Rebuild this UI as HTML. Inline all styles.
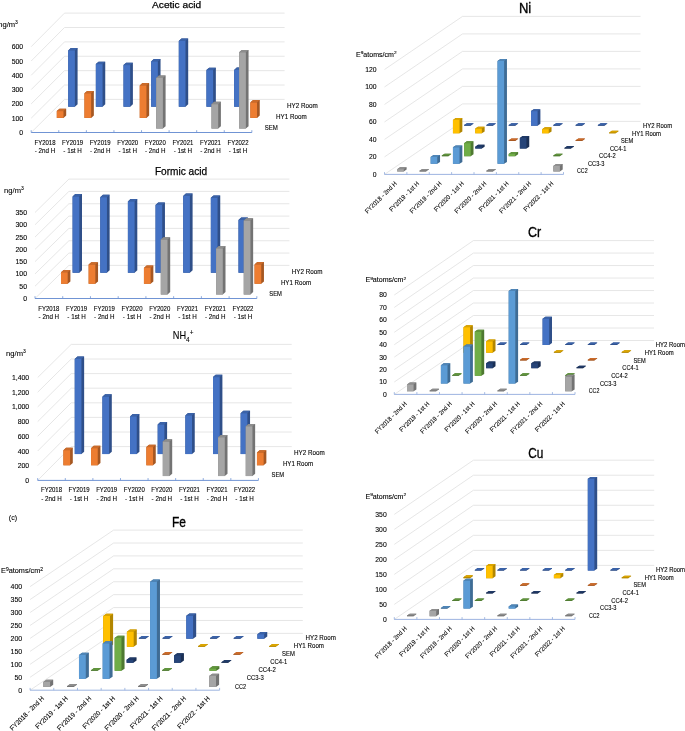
<!DOCTYPE html>
<html><head><meta charset="utf-8"><style>
html,body{margin:0;padding:0;background:#fff;}
body{width:685px;height:731px;overflow:hidden;}
svg{display:block;will-change:transform;}
text{font-family:"Liberation Sans", sans-serif;stroke:#000;stroke-width:0.1px;paint-order:stroke;}
</style></head><body>
<svg width="685" height="731" viewBox="0 0 685 731" font-family='"Liberation Sans", sans-serif'>
<rect width="685" height="731" fill="#fff"/>
<text x="152.10" y="8.00" font-size="9.80" textLength="49.00" lengthAdjust="spacingAndGlyphs" fill="#000" style="stroke-width:0.25px">Acetic acid</text>
<text x="154.90" y="174.60" font-size="11.00" textLength="52.30" lengthAdjust="spacingAndGlyphs" fill="#000" style="stroke-width:0.25px">Formic acid</text>
<text x="172.8" y="339.3" font-size="10.4" fill="#000"><tspan textLength="13.3" lengthAdjust="spacingAndGlyphs">NH</tspan><tspan font-size="6.4" dy="2.3">4</tspan><tspan font-size="6.4" dy="-6.6">+</tspan></text>
<text x="-1.80" y="26.90" font-size="7.6" fill="#000">ng/m<tspan font-size="5.0" dy="-3.2">3</tspan></text>
<text x="4.10" y="192.90" font-size="7.6" fill="#000">ng/m<tspan font-size="5.0" dy="-3.2">3</tspan></text>
<text x="6.10" y="356.20" font-size="7.6" fill="#000">ng/m<tspan font-size="5.0" dy="-3.2">3</tspan></text>
<polyline points="31.20,132.50 64.50,99.40 284.60,99.40" fill="none" stroke="#e0e0e0" stroke-width="0.8"/>
<polyline points="31.20,118.20 64.50,85.02 284.60,85.02" fill="none" stroke="#e0e0e0" stroke-width="0.8"/>
<polyline points="31.20,103.90 64.50,70.64 284.60,70.64" fill="none" stroke="#e0e0e0" stroke-width="0.8"/>
<polyline points="31.20,89.60 64.50,56.26 284.60,56.26" fill="none" stroke="#e0e0e0" stroke-width="0.8"/>
<polyline points="31.20,75.30 64.50,41.88 284.60,41.88" fill="none" stroke="#e0e0e0" stroke-width="0.8"/>
<polyline points="31.20,61.00 64.50,27.50 284.60,27.50" fill="none" stroke="#e0e0e0" stroke-width="0.8"/>
<polyline points="31.20,46.70 64.50,13.12 284.60,13.12" fill="none" stroke="#e0e0e0" stroke-width="0.8"/>
<line x1="31.20" y1="132.50" x2="251.84" y2="132.50" stroke="#7094d4" stroke-width="1.0"/>
<line x1="31.20" y1="130.20" x2="31.20" y2="132.50" stroke="#7094d4" stroke-width="0.8"/>
<line x1="58.78" y1="130.20" x2="58.78" y2="132.50" stroke="#7094d4" stroke-width="0.8"/>
<line x1="86.36" y1="130.20" x2="86.36" y2="132.50" stroke="#7094d4" stroke-width="0.8"/>
<line x1="113.94" y1="130.20" x2="113.94" y2="132.50" stroke="#7094d4" stroke-width="0.8"/>
<line x1="141.52" y1="130.20" x2="141.52" y2="132.50" stroke="#7094d4" stroke-width="0.8"/>
<line x1="169.10" y1="130.20" x2="169.10" y2="132.50" stroke="#7094d4" stroke-width="0.8"/>
<line x1="196.68" y1="130.20" x2="196.68" y2="132.50" stroke="#7094d4" stroke-width="0.8"/>
<line x1="224.26" y1="130.20" x2="224.26" y2="132.50" stroke="#7094d4" stroke-width="0.8"/>
<line x1="251.84" y1="130.20" x2="251.84" y2="132.50" stroke="#7094d4" stroke-width="0.8"/>
<text x="23.20" y="135.00" font-size="6.90" text-anchor="end" fill="#000">0</text>
<text x="23.20" y="120.70" font-size="6.90" text-anchor="end" fill="#000">100</text>
<text x="23.20" y="106.40" font-size="6.90" text-anchor="end" fill="#000">200</text>
<text x="23.20" y="92.10" font-size="6.90" text-anchor="end" fill="#000">300</text>
<text x="23.20" y="77.80" font-size="6.90" text-anchor="end" fill="#000">400</text>
<text x="23.20" y="63.50" font-size="6.90" text-anchor="end" fill="#000">500</text>
<text x="23.20" y="49.20" font-size="6.90" text-anchor="end" fill="#000">600</text>
<polygon points="68.20,106.70 74.90,106.70 77.60,104.30 77.60,48.00 70.90,48.00 68.20,50.40" fill="#2f4f89"/><polygon points="68.20,50.40 74.90,50.40 77.60,48.00 70.90,48.00" fill="#3a62a8"/><rect x="68.20" y="50.40" width="6.70" height="56.30" fill="#4472C4"/>
<polygon points="95.85,106.70 102.55,106.70 105.25,104.30 105.25,61.70 98.55,61.70 95.85,64.10" fill="#2f4f89"/><polygon points="95.85,64.10 102.55,64.10 105.25,61.70 98.55,61.70" fill="#3a62a8"/><rect x="95.85" y="64.10" width="6.70" height="42.60" fill="#4472C4"/>
<polygon points="123.50,106.70 130.20,106.70 132.90,104.30 132.90,62.70 126.20,62.70 123.50,65.10" fill="#2f4f89"/><polygon points="123.50,65.10 130.20,65.10 132.90,62.70 126.20,62.70" fill="#3a62a8"/><rect x="123.50" y="65.10" width="6.70" height="41.60" fill="#4472C4"/>
<polygon points="151.15,106.70 157.85,106.70 160.55,104.30 160.55,59.00 153.85,59.00 151.15,61.40" fill="#2f4f89"/><polygon points="151.15,61.40 157.85,61.40 160.55,59.00 153.85,59.00" fill="#3a62a8"/><rect x="151.15" y="61.40" width="6.70" height="45.30" fill="#4472C4"/>
<polygon points="178.80,106.70 185.50,106.70 188.20,104.30 188.20,38.60 181.50,38.60 178.80,41.00" fill="#2f4f89"/><polygon points="178.80,41.00 185.50,41.00 188.20,38.60 181.50,38.60" fill="#3a62a8"/><rect x="178.80" y="41.00" width="6.70" height="65.70" fill="#4472C4"/>
<polygon points="206.45,106.70 213.15,106.70 215.85,104.30 215.85,67.70 209.15,67.70 206.45,70.10" fill="#2f4f89"/><polygon points="206.45,70.10 213.15,70.10 215.85,67.70 209.15,67.70" fill="#3a62a8"/><rect x="206.45" y="70.10" width="6.70" height="36.60" fill="#4472C4"/>
<polygon points="234.10,106.70 240.80,106.70 243.50,104.30 243.50,67.50 236.80,67.50 234.10,69.90" fill="#2f4f89"/><polygon points="234.10,69.90 240.80,69.90 243.50,67.50 236.80,67.50" fill="#3a62a8"/><rect x="234.10" y="69.90" width="6.70" height="36.80" fill="#4472C4"/>
<polygon points="56.80,117.90 63.50,117.90 66.20,115.50 66.20,108.70 59.50,108.70 56.80,111.10" fill="#a55722"/><polygon points="56.80,111.10 63.50,111.10 66.20,108.70 59.50,108.70" fill="#cb6b2a"/><rect x="56.80" y="111.10" width="6.70" height="6.80" fill="#ED7D31"/>
<polygon points="84.45,117.90 91.15,117.90 93.85,115.50 93.85,90.90 87.15,90.90 84.45,93.30" fill="#a55722"/><polygon points="84.45,93.30 91.15,93.30 93.85,90.90 87.15,90.90" fill="#cb6b2a"/><rect x="84.45" y="93.30" width="6.70" height="24.60" fill="#ED7D31"/>
<polygon points="139.75,117.90 146.45,117.90 149.15,115.50 149.15,83.10 142.45,83.10 139.75,85.50" fill="#a55722"/><polygon points="139.75,85.50 146.45,85.50 149.15,83.10 142.45,83.10" fill="#cb6b2a"/><rect x="139.75" y="85.50" width="6.70" height="32.40" fill="#ED7D31"/>
<polygon points="250.35,117.90 257.05,117.90 259.75,115.50 259.75,100.10 253.05,100.10 250.35,102.50" fill="#a55722"/><polygon points="250.35,102.50 257.05,102.50 259.75,100.10 253.05,100.10" fill="#cb6b2a"/><rect x="250.35" y="102.50" width="6.70" height="15.40" fill="#ED7D31"/>
<polygon points="156.20,128.60 162.90,128.60 165.60,126.20 165.60,75.50 158.90,75.50 156.20,77.90" fill="#737373"/><polygon points="156.20,77.90 162.90,77.90 165.60,75.50 158.90,75.50" fill="#8d8d8d"/><rect x="156.20" y="77.90" width="6.70" height="50.70" fill="#A5A5A5"/>
<polygon points="211.50,128.60 218.20,128.60 220.90,126.20 220.90,101.80 214.20,101.80 211.50,104.20" fill="#737373"/><polygon points="211.50,104.20 218.20,104.20 220.90,101.80 214.20,101.80" fill="#8d8d8d"/><rect x="211.50" y="104.20" width="6.70" height="24.40" fill="#A5A5A5"/>
<polygon points="239.15,128.60 245.85,128.60 248.55,126.20 248.55,49.90 241.85,49.90 239.15,52.30" fill="#737373"/><polygon points="239.15,52.30 245.85,52.30 248.55,49.90 241.85,49.90" fill="#8d8d8d"/><rect x="239.15" y="52.30" width="6.70" height="76.30" fill="#A5A5A5"/>
<text x="44.99" y="144.80" font-size="6.60" text-anchor="middle" textLength="21.00" lengthAdjust="spacingAndGlyphs" fill="#000">FY2018</text>
<text x="44.99" y="153.10" font-size="6.60" text-anchor="middle" textLength="20.50" lengthAdjust="spacingAndGlyphs" fill="#000">- 2nd H</text>
<text x="72.57" y="144.80" font-size="6.60" text-anchor="middle" textLength="21.00" lengthAdjust="spacingAndGlyphs" fill="#000">FY2019</text>
<text x="72.57" y="153.10" font-size="6.60" text-anchor="middle" textLength="18.50" lengthAdjust="spacingAndGlyphs" fill="#000">- 1st H</text>
<text x="100.15" y="144.80" font-size="6.60" text-anchor="middle" textLength="21.00" lengthAdjust="spacingAndGlyphs" fill="#000">FY2019</text>
<text x="100.15" y="153.10" font-size="6.60" text-anchor="middle" textLength="20.50" lengthAdjust="spacingAndGlyphs" fill="#000">- 2nd H</text>
<text x="127.73" y="144.80" font-size="6.60" text-anchor="middle" textLength="21.00" lengthAdjust="spacingAndGlyphs" fill="#000">FY2020</text>
<text x="127.73" y="153.10" font-size="6.60" text-anchor="middle" textLength="18.50" lengthAdjust="spacingAndGlyphs" fill="#000">- 1st H</text>
<text x="155.31" y="144.80" font-size="6.60" text-anchor="middle" textLength="21.00" lengthAdjust="spacingAndGlyphs" fill="#000">FY2020</text>
<text x="155.31" y="153.10" font-size="6.60" text-anchor="middle" textLength="20.50" lengthAdjust="spacingAndGlyphs" fill="#000">- 2nd H</text>
<text x="182.89" y="144.80" font-size="6.60" text-anchor="middle" textLength="21.00" lengthAdjust="spacingAndGlyphs" fill="#000">FY2021</text>
<text x="182.89" y="153.10" font-size="6.60" text-anchor="middle" textLength="18.50" lengthAdjust="spacingAndGlyphs" fill="#000">- 1st H</text>
<text x="210.47" y="144.80" font-size="6.60" text-anchor="middle" textLength="21.00" lengthAdjust="spacingAndGlyphs" fill="#000">FY2021</text>
<text x="210.47" y="153.10" font-size="6.60" text-anchor="middle" textLength="20.50" lengthAdjust="spacingAndGlyphs" fill="#000">- 2nd H</text>
<text x="238.05" y="144.80" font-size="6.60" text-anchor="middle" textLength="21.00" lengthAdjust="spacingAndGlyphs" fill="#000">FY2022</text>
<text x="238.05" y="153.10" font-size="6.60" text-anchor="middle" textLength="18.50" lengthAdjust="spacingAndGlyphs" fill="#000">- 1st H</text>
<text x="287.00" y="107.70" font-size="6.40" textLength="30.80" lengthAdjust="spacingAndGlyphs" fill="#000">HY2 Room</text>
<text x="276.00" y="118.80" font-size="6.40" textLength="30.70" lengthAdjust="spacingAndGlyphs" fill="#000">HY1 Room</text>
<text x="264.80" y="129.90" font-size="6.40" textLength="13.10" lengthAdjust="spacingAndGlyphs" fill="#000">SEM</text>
<polyline points="35.00,298.50 68.90,265.40 289.40,265.40" fill="none" stroke="#e0e0e0" stroke-width="0.8"/>
<polyline points="35.00,286.21 68.90,253.07 289.40,253.07" fill="none" stroke="#e0e0e0" stroke-width="0.8"/>
<polyline points="35.00,273.93 68.90,240.74 289.40,240.74" fill="none" stroke="#e0e0e0" stroke-width="0.8"/>
<polyline points="35.00,261.64 68.90,228.41 289.40,228.41" fill="none" stroke="#e0e0e0" stroke-width="0.8"/>
<polyline points="35.00,249.36 68.90,216.08 289.40,216.08" fill="none" stroke="#e0e0e0" stroke-width="0.8"/>
<polyline points="35.00,237.07 68.90,203.75 289.40,203.75" fill="none" stroke="#e0e0e0" stroke-width="0.8"/>
<polyline points="35.00,224.79 68.90,191.42 289.40,191.42" fill="none" stroke="#e0e0e0" stroke-width="0.8"/>
<polyline points="35.00,212.50 68.90,179.09 289.40,179.09" fill="none" stroke="#e0e0e0" stroke-width="0.8"/>
<line x1="35.00" y1="298.50" x2="256.84" y2="298.50" stroke="#7094d4" stroke-width="1.0"/>
<line x1="35.00" y1="296.20" x2="35.00" y2="298.50" stroke="#7094d4" stroke-width="0.8"/>
<line x1="62.73" y1="296.20" x2="62.73" y2="298.50" stroke="#7094d4" stroke-width="0.8"/>
<line x1="90.46" y1="296.20" x2="90.46" y2="298.50" stroke="#7094d4" stroke-width="0.8"/>
<line x1="118.19" y1="296.20" x2="118.19" y2="298.50" stroke="#7094d4" stroke-width="0.8"/>
<line x1="145.92" y1="296.20" x2="145.92" y2="298.50" stroke="#7094d4" stroke-width="0.8"/>
<line x1="173.65" y1="296.20" x2="173.65" y2="298.50" stroke="#7094d4" stroke-width="0.8"/>
<line x1="201.38" y1="296.20" x2="201.38" y2="298.50" stroke="#7094d4" stroke-width="0.8"/>
<line x1="229.11" y1="296.20" x2="229.11" y2="298.50" stroke="#7094d4" stroke-width="0.8"/>
<line x1="256.84" y1="296.20" x2="256.84" y2="298.50" stroke="#7094d4" stroke-width="0.8"/>
<text x="27.00" y="301.00" font-size="6.90" text-anchor="end" fill="#000">0</text>
<text x="27.00" y="288.71" font-size="6.90" text-anchor="end" fill="#000">50</text>
<text x="27.00" y="276.43" font-size="6.90" text-anchor="end" fill="#000">100</text>
<text x="27.00" y="264.14" font-size="6.90" text-anchor="end" fill="#000">150</text>
<text x="27.00" y="251.86" font-size="6.90" text-anchor="end" fill="#000">200</text>
<text x="27.00" y="239.57" font-size="6.90" text-anchor="end" fill="#000">250</text>
<text x="27.00" y="227.29" font-size="6.90" text-anchor="end" fill="#000">300</text>
<text x="27.00" y="215.00" font-size="6.90" text-anchor="end" fill="#000">350</text>
<polygon points="72.60,272.70 79.30,272.70 82.00,270.30 82.00,194.10 75.30,194.10 72.60,196.50" fill="#2f4f89"/><polygon points="72.60,196.50 79.30,196.50 82.00,194.10 75.30,194.10" fill="#3a62a8"/><rect x="72.60" y="196.50" width="6.70" height="76.20" fill="#4472C4"/>
<polygon points="100.25,272.70 106.95,272.70 109.65,270.30 109.65,194.80 102.95,194.80 100.25,197.20" fill="#2f4f89"/><polygon points="100.25,197.20 106.95,197.20 109.65,194.80 102.95,194.80" fill="#3a62a8"/><rect x="100.25" y="197.20" width="6.70" height="75.50" fill="#4472C4"/>
<polygon points="127.90,272.70 134.60,272.70 137.30,270.30 137.30,199.00 130.60,199.00 127.90,201.40" fill="#2f4f89"/><polygon points="127.90,201.40 134.60,201.40 137.30,199.00 130.60,199.00" fill="#3a62a8"/><rect x="127.90" y="201.40" width="6.70" height="71.30" fill="#4472C4"/>
<polygon points="155.55,272.70 162.25,272.70 164.95,270.30 164.95,202.50 158.25,202.50 155.55,204.90" fill="#2f4f89"/><polygon points="155.55,204.90 162.25,204.90 164.95,202.50 158.25,202.50" fill="#3a62a8"/><rect x="155.55" y="204.90" width="6.70" height="67.80" fill="#4472C4"/>
<polygon points="183.20,272.70 189.90,272.70 192.60,270.30 192.60,193.60 185.90,193.60 183.20,196.00" fill="#2f4f89"/><polygon points="183.20,196.00 189.90,196.00 192.60,193.60 185.90,193.60" fill="#3a62a8"/><rect x="183.20" y="196.00" width="6.70" height="76.70" fill="#4472C4"/>
<polygon points="210.85,272.70 217.55,272.70 220.25,270.30 220.25,195.40 213.55,195.40 210.85,197.80" fill="#2f4f89"/><polygon points="210.85,197.80 217.55,197.80 220.25,195.40 213.55,195.40" fill="#3a62a8"/><rect x="210.85" y="197.80" width="6.70" height="74.90" fill="#4472C4"/>
<polygon points="238.50,272.70 245.20,272.70 247.90,270.30 247.90,217.60 241.20,217.60 238.50,220.00" fill="#2f4f89"/><polygon points="238.50,220.00 245.20,220.00 247.90,217.60 241.20,217.60" fill="#3a62a8"/><rect x="238.50" y="220.00" width="6.70" height="52.70" fill="#4472C4"/>
<polygon points="61.00,283.80 67.70,283.80 70.40,281.40 70.40,269.90 63.70,269.90 61.00,272.30" fill="#a55722"/><polygon points="61.00,272.30 67.70,272.30 70.40,269.90 63.70,269.90" fill="#cb6b2a"/><rect x="61.00" y="272.30" width="6.70" height="11.50" fill="#ED7D31"/>
<polygon points="88.65,283.80 95.35,283.80 98.05,281.40 98.05,262.20 91.35,262.20 88.65,264.60" fill="#a55722"/><polygon points="88.65,264.60 95.35,264.60 98.05,262.20 91.35,262.20" fill="#cb6b2a"/><rect x="88.65" y="264.60" width="6.70" height="19.20" fill="#ED7D31"/>
<polygon points="143.95,283.80 150.65,283.80 153.35,281.40 153.35,265.60 146.65,265.60 143.95,268.00" fill="#a55722"/><polygon points="143.95,268.00 150.65,268.00 153.35,265.60 146.65,265.60" fill="#cb6b2a"/><rect x="143.95" y="268.00" width="6.70" height="15.80" fill="#ED7D31"/>
<polygon points="254.55,283.80 261.25,283.80 263.95,281.40 263.95,262.10 257.25,262.10 254.55,264.50" fill="#a55722"/><polygon points="254.55,264.50 261.25,264.50 263.95,262.10 257.25,262.10" fill="#cb6b2a"/><rect x="254.55" y="264.50" width="6.70" height="19.30" fill="#ED7D31"/>
<polygon points="160.80,294.50 167.50,294.50 170.20,292.10 170.20,237.20 163.50,237.20 160.80,239.60" fill="#737373"/><polygon points="160.80,239.60 167.50,239.60 170.20,237.20 163.50,237.20" fill="#8d8d8d"/><rect x="160.80" y="239.60" width="6.70" height="54.90" fill="#A5A5A5"/>
<polygon points="216.10,294.50 222.80,294.50 225.50,292.10 225.50,246.10 218.80,246.10 216.10,248.50" fill="#737373"/><polygon points="216.10,248.50 222.80,248.50 225.50,246.10 218.80,246.10" fill="#8d8d8d"/><rect x="216.10" y="248.50" width="6.70" height="46.00" fill="#A5A5A5"/>
<polygon points="243.75,294.50 250.45,294.50 253.15,292.10 253.15,218.20 246.45,218.20 243.75,220.60" fill="#737373"/><polygon points="243.75,220.60 250.45,220.60 253.15,218.20 246.45,218.20" fill="#8d8d8d"/><rect x="243.75" y="220.60" width="6.70" height="73.90" fill="#A5A5A5"/>
<text x="48.87" y="310.70" font-size="6.60" text-anchor="middle" textLength="21.00" lengthAdjust="spacingAndGlyphs" fill="#000">FY2018</text>
<text x="48.87" y="319.00" font-size="6.60" text-anchor="middle" textLength="20.50" lengthAdjust="spacingAndGlyphs" fill="#000">- 2nd H</text>
<text x="76.59" y="310.70" font-size="6.60" text-anchor="middle" textLength="21.00" lengthAdjust="spacingAndGlyphs" fill="#000">FY2019</text>
<text x="76.59" y="319.00" font-size="6.60" text-anchor="middle" textLength="18.50" lengthAdjust="spacingAndGlyphs" fill="#000">- 1st H</text>
<text x="104.33" y="310.70" font-size="6.60" text-anchor="middle" textLength="21.00" lengthAdjust="spacingAndGlyphs" fill="#000">FY2019</text>
<text x="104.33" y="319.00" font-size="6.60" text-anchor="middle" textLength="20.50" lengthAdjust="spacingAndGlyphs" fill="#000">- 2nd H</text>
<text x="132.06" y="310.70" font-size="6.60" text-anchor="middle" textLength="21.00" lengthAdjust="spacingAndGlyphs" fill="#000">FY2020</text>
<text x="132.06" y="319.00" font-size="6.60" text-anchor="middle" textLength="18.50" lengthAdjust="spacingAndGlyphs" fill="#000">- 1st H</text>
<text x="159.78" y="310.70" font-size="6.60" text-anchor="middle" textLength="21.00" lengthAdjust="spacingAndGlyphs" fill="#000">FY2020</text>
<text x="159.78" y="319.00" font-size="6.60" text-anchor="middle" textLength="20.50" lengthAdjust="spacingAndGlyphs" fill="#000">- 2nd H</text>
<text x="187.52" y="310.70" font-size="6.60" text-anchor="middle" textLength="21.00" lengthAdjust="spacingAndGlyphs" fill="#000">FY2021</text>
<text x="187.52" y="319.00" font-size="6.60" text-anchor="middle" textLength="18.50" lengthAdjust="spacingAndGlyphs" fill="#000">- 1st H</text>
<text x="215.25" y="310.70" font-size="6.60" text-anchor="middle" textLength="21.00" lengthAdjust="spacingAndGlyphs" fill="#000">FY2021</text>
<text x="215.25" y="319.00" font-size="6.60" text-anchor="middle" textLength="20.50" lengthAdjust="spacingAndGlyphs" fill="#000">- 2nd H</text>
<text x="242.97" y="310.70" font-size="6.60" text-anchor="middle" textLength="21.00" lengthAdjust="spacingAndGlyphs" fill="#000">FY2022</text>
<text x="242.97" y="319.00" font-size="6.60" text-anchor="middle" textLength="18.50" lengthAdjust="spacingAndGlyphs" fill="#000">- 1st H</text>
<text x="291.70" y="273.80" font-size="6.40" textLength="30.80" lengthAdjust="spacingAndGlyphs" fill="#000">HY2 Room</text>
<text x="280.90" y="285.00" font-size="6.40" textLength="30.20" lengthAdjust="spacingAndGlyphs" fill="#000">HY1 Room</text>
<text x="269.30" y="295.70" font-size="6.40" textLength="12.60" lengthAdjust="spacingAndGlyphs" fill="#000">SEM</text>
<polyline points="37.70,480.40 71.20,446.60 291.70,446.60" fill="none" stroke="#e0e0e0" stroke-width="0.8"/>
<polyline points="37.70,465.70 71.20,432.00 291.70,432.00" fill="none" stroke="#e0e0e0" stroke-width="0.8"/>
<polyline points="37.70,451.00 71.20,417.40 291.70,417.40" fill="none" stroke="#e0e0e0" stroke-width="0.8"/>
<polyline points="37.70,436.30 71.20,402.80 291.70,402.80" fill="none" stroke="#e0e0e0" stroke-width="0.8"/>
<polyline points="37.70,421.60 71.20,388.20 291.70,388.20" fill="none" stroke="#e0e0e0" stroke-width="0.8"/>
<polyline points="37.70,406.90 71.20,373.60 291.70,373.60" fill="none" stroke="#e0e0e0" stroke-width="0.8"/>
<polyline points="37.70,392.20 71.20,359.00 291.70,359.00" fill="none" stroke="#e0e0e0" stroke-width="0.8"/>
<polyline points="37.70,377.50 71.20,344.40 291.70,344.40" fill="none" stroke="#e0e0e0" stroke-width="0.8"/>
<line x1="37.70" y1="480.40" x2="258.42" y2="480.40" stroke="#7094d4" stroke-width="1.0"/>
<line x1="37.70" y1="478.10" x2="37.70" y2="480.40" stroke="#7094d4" stroke-width="0.8"/>
<line x1="65.29" y1="478.10" x2="65.29" y2="480.40" stroke="#7094d4" stroke-width="0.8"/>
<line x1="92.88" y1="478.10" x2="92.88" y2="480.40" stroke="#7094d4" stroke-width="0.8"/>
<line x1="120.47" y1="478.10" x2="120.47" y2="480.40" stroke="#7094d4" stroke-width="0.8"/>
<line x1="148.06" y1="478.10" x2="148.06" y2="480.40" stroke="#7094d4" stroke-width="0.8"/>
<line x1="175.65" y1="478.10" x2="175.65" y2="480.40" stroke="#7094d4" stroke-width="0.8"/>
<line x1="203.24" y1="478.10" x2="203.24" y2="480.40" stroke="#7094d4" stroke-width="0.8"/>
<line x1="230.83" y1="478.10" x2="230.83" y2="480.40" stroke="#7094d4" stroke-width="0.8"/>
<line x1="258.42" y1="478.10" x2="258.42" y2="480.40" stroke="#7094d4" stroke-width="0.8"/>
<text x="29.20" y="482.90" font-size="6.90" text-anchor="end" fill="#000">0</text>
<text x="29.20" y="468.20" font-size="6.90" text-anchor="end" fill="#000">200</text>
<text x="29.20" y="453.50" font-size="6.90" text-anchor="end" fill="#000">400</text>
<text x="29.20" y="438.80" font-size="6.90" text-anchor="end" fill="#000">600</text>
<text x="29.20" y="424.10" font-size="6.90" text-anchor="end" fill="#000">800</text>
<text x="29.20" y="409.40" font-size="6.90" text-anchor="end" fill="#000">1,000</text>
<text x="29.20" y="394.70" font-size="6.90" text-anchor="end" fill="#000">1,200</text>
<text x="29.20" y="380.00" font-size="6.90" text-anchor="end" fill="#000">1,400</text>
<polygon points="74.75,454.10 81.45,454.10 84.15,451.70 84.15,356.50 77.45,356.50 74.75,358.90" fill="#2f4f89"/><polygon points="74.75,358.90 81.45,358.90 84.15,356.50 77.45,356.50" fill="#3a62a8"/><rect x="74.75" y="358.90" width="6.70" height="95.20" fill="#4472C4"/>
<polygon points="102.40,454.10 109.10,454.10 111.80,451.70 111.80,394.30 105.10,394.30 102.40,396.70" fill="#2f4f89"/><polygon points="102.40,396.70 109.10,396.70 111.80,394.30 105.10,394.30" fill="#3a62a8"/><rect x="102.40" y="396.70" width="6.70" height="57.40" fill="#4472C4"/>
<polygon points="130.05,454.10 136.75,454.10 139.45,451.70 139.45,414.00 132.75,414.00 130.05,416.40" fill="#2f4f89"/><polygon points="130.05,416.40 136.75,416.40 139.45,414.00 132.75,414.00" fill="#3a62a8"/><rect x="130.05" y="416.40" width="6.70" height="37.70" fill="#4472C4"/>
<polygon points="157.70,454.10 164.40,454.10 167.10,451.70 167.10,422.10 160.40,422.10 157.70,424.50" fill="#2f4f89"/><polygon points="157.70,424.50 164.40,424.50 167.10,422.10 160.40,422.10" fill="#3a62a8"/><rect x="157.70" y="424.50" width="6.70" height="29.60" fill="#4472C4"/>
<polygon points="185.35,454.10 192.05,454.10 194.75,451.70 194.75,413.00 188.05,413.00 185.35,415.40" fill="#2f4f89"/><polygon points="185.35,415.40 192.05,415.40 194.75,413.00 188.05,413.00" fill="#3a62a8"/><rect x="185.35" y="415.40" width="6.70" height="38.70" fill="#4472C4"/>
<polygon points="213.00,454.10 219.70,454.10 222.40,451.70 222.40,374.70 215.70,374.70 213.00,377.10" fill="#2f4f89"/><polygon points="213.00,377.10 219.70,377.10 222.40,374.70 215.70,374.70" fill="#3a62a8"/><rect x="213.00" y="377.10" width="6.70" height="77.00" fill="#4472C4"/>
<polygon points="240.65,454.10 247.35,454.10 250.05,451.70 250.05,410.80 243.35,410.80 240.65,413.20" fill="#2f4f89"/><polygon points="240.65,413.20 247.35,413.20 250.05,410.80 243.35,410.80" fill="#3a62a8"/><rect x="240.65" y="413.20" width="6.70" height="40.90" fill="#4472C4"/>
<polygon points="63.40,465.30 70.10,465.30 72.80,462.90 72.80,447.80 66.10,447.80 63.40,450.20" fill="#a55722"/><polygon points="63.40,450.20 70.10,450.20 72.80,447.80 66.10,447.80" fill="#cb6b2a"/><rect x="63.40" y="450.20" width="6.70" height="15.10" fill="#ED7D31"/>
<polygon points="91.05,465.30 97.75,465.30 100.45,462.90 100.45,445.80 93.75,445.80 91.05,448.20" fill="#a55722"/><polygon points="91.05,448.20 97.75,448.20 100.45,445.80 93.75,445.80" fill="#cb6b2a"/><rect x="91.05" y="448.20" width="6.70" height="17.10" fill="#ED7D31"/>
<polygon points="146.35,465.30 153.05,465.30 155.75,462.90 155.75,444.70 149.05,444.70 146.35,447.10" fill="#a55722"/><polygon points="146.35,447.10 153.05,447.10 155.75,444.70 149.05,444.70" fill="#cb6b2a"/><rect x="146.35" y="447.10" width="6.70" height="18.20" fill="#ED7D31"/>
<polygon points="256.95,465.30 263.65,465.30 266.35,462.90 266.35,450.20 259.65,450.20 256.95,452.60" fill="#a55722"/><polygon points="256.95,452.60 263.65,452.60 266.35,450.20 259.65,450.20" fill="#cb6b2a"/><rect x="256.95" y="452.60" width="6.70" height="12.70" fill="#ED7D31"/>
<polygon points="162.80,476.10 169.50,476.10 172.20,473.70 172.20,439.20 165.50,439.20 162.80,441.60" fill="#737373"/><polygon points="162.80,441.60 169.50,441.60 172.20,439.20 165.50,439.20" fill="#8d8d8d"/><rect x="162.80" y="441.60" width="6.70" height="34.50" fill="#A5A5A5"/>
<polygon points="218.10,476.10 224.80,476.10 227.50,473.70 227.50,434.90 220.80,434.90 218.10,437.30" fill="#737373"/><polygon points="218.10,437.30 224.80,437.30 227.50,434.90 220.80,434.90" fill="#8d8d8d"/><rect x="218.10" y="437.30" width="6.70" height="38.80" fill="#A5A5A5"/>
<polygon points="245.75,476.10 252.45,476.10 255.15,473.70 255.15,423.90 248.45,423.90 245.75,426.30" fill="#737373"/><polygon points="245.75,426.30 252.45,426.30 255.15,423.90 248.45,423.90" fill="#8d8d8d"/><rect x="245.75" y="426.30" width="6.70" height="49.80" fill="#A5A5A5"/>
<text x="51.50" y="492.00" font-size="6.60" text-anchor="middle" textLength="21.00" lengthAdjust="spacingAndGlyphs" fill="#000">FY2018</text>
<text x="51.50" y="500.80" font-size="6.60" text-anchor="middle" textLength="20.50" lengthAdjust="spacingAndGlyphs" fill="#000">- 2nd H</text>
<text x="79.09" y="492.00" font-size="6.60" text-anchor="middle" textLength="21.00" lengthAdjust="spacingAndGlyphs" fill="#000">FY2019</text>
<text x="79.09" y="500.80" font-size="6.60" text-anchor="middle" textLength="18.50" lengthAdjust="spacingAndGlyphs" fill="#000">- 1st H</text>
<text x="106.67" y="492.00" font-size="6.60" text-anchor="middle" textLength="21.00" lengthAdjust="spacingAndGlyphs" fill="#000">FY2019</text>
<text x="106.67" y="500.80" font-size="6.60" text-anchor="middle" textLength="20.50" lengthAdjust="spacingAndGlyphs" fill="#000">- 2nd H</text>
<text x="134.26" y="492.00" font-size="6.60" text-anchor="middle" textLength="21.00" lengthAdjust="spacingAndGlyphs" fill="#000">FY2020</text>
<text x="134.26" y="500.80" font-size="6.60" text-anchor="middle" textLength="18.50" lengthAdjust="spacingAndGlyphs" fill="#000">- 1st H</text>
<text x="161.86" y="492.00" font-size="6.60" text-anchor="middle" textLength="21.00" lengthAdjust="spacingAndGlyphs" fill="#000">FY2020</text>
<text x="161.86" y="500.80" font-size="6.60" text-anchor="middle" textLength="20.50" lengthAdjust="spacingAndGlyphs" fill="#000">- 2nd H</text>
<text x="189.44" y="492.00" font-size="6.60" text-anchor="middle" textLength="21.00" lengthAdjust="spacingAndGlyphs" fill="#000">FY2021</text>
<text x="189.44" y="500.80" font-size="6.60" text-anchor="middle" textLength="18.50" lengthAdjust="spacingAndGlyphs" fill="#000">- 1st H</text>
<text x="217.04" y="492.00" font-size="6.60" text-anchor="middle" textLength="21.00" lengthAdjust="spacingAndGlyphs" fill="#000">FY2021</text>
<text x="217.04" y="500.80" font-size="6.60" text-anchor="middle" textLength="20.50" lengthAdjust="spacingAndGlyphs" fill="#000">- 2nd H</text>
<text x="244.62" y="492.00" font-size="6.60" text-anchor="middle" textLength="21.00" lengthAdjust="spacingAndGlyphs" fill="#000">FY2022</text>
<text x="244.62" y="500.80" font-size="6.60" text-anchor="middle" textLength="18.50" lengthAdjust="spacingAndGlyphs" fill="#000">- 1st H</text>
<text x="293.90" y="455.20" font-size="6.40" textLength="30.80" lengthAdjust="spacingAndGlyphs" fill="#000">HY2 Room</text>
<text x="282.90" y="466.20" font-size="6.40" textLength="30.20" lengthAdjust="spacingAndGlyphs" fill="#000">HY1 Room</text>
<text x="271.50" y="477.20" font-size="6.40" textLength="12.60" lengthAdjust="spacingAndGlyphs" fill="#000">SEM</text>
<text x="8.80" y="520.40" font-size="7.80" textLength="8.30" lengthAdjust="spacingAndGlyphs" fill="#000">(c)</text>
<polyline points="384.50,174.40 462.50,121.40 640.50,121.40" fill="none" stroke="#e0e0e0" stroke-width="0.8"/>
<polyline points="384.50,156.92 462.50,103.90 640.50,103.90" fill="none" stroke="#e0e0e0" stroke-width="0.8"/>
<polyline points="384.50,139.43 462.50,86.40 640.50,86.40" fill="none" stroke="#e0e0e0" stroke-width="0.8"/>
<polyline points="384.50,121.95 462.50,68.90 640.50,68.90" fill="none" stroke="#e0e0e0" stroke-width="0.8"/>
<polyline points="384.50,104.46 462.50,51.40 640.50,51.40" fill="none" stroke="#e0e0e0" stroke-width="0.8"/>
<polyline points="384.50,86.98 462.50,33.90 640.50,33.90" fill="none" stroke="#e0e0e0" stroke-width="0.8"/>
<polyline points="384.50,69.50 462.50,16.40 640.50,16.40" fill="none" stroke="#e0e0e0" stroke-width="0.8"/>
<line x1="384.50" y1="174.40" x2="563.50" y2="174.40" stroke="#92acdc" stroke-width="0.9"/>
<line x1="384.50" y1="172.10" x2="384.50" y2="174.40" stroke="#92acdc" stroke-width="0.8"/>
<line x1="406.88" y1="172.10" x2="406.88" y2="174.40" stroke="#92acdc" stroke-width="0.8"/>
<line x1="429.25" y1="172.10" x2="429.25" y2="174.40" stroke="#92acdc" stroke-width="0.8"/>
<line x1="451.62" y1="172.10" x2="451.62" y2="174.40" stroke="#92acdc" stroke-width="0.8"/>
<line x1="474.00" y1="172.10" x2="474.00" y2="174.40" stroke="#92acdc" stroke-width="0.8"/>
<line x1="496.38" y1="172.10" x2="496.38" y2="174.40" stroke="#92acdc" stroke-width="0.8"/>
<line x1="518.75" y1="172.10" x2="518.75" y2="174.40" stroke="#92acdc" stroke-width="0.8"/>
<line x1="541.12" y1="172.10" x2="541.12" y2="174.40" stroke="#92acdc" stroke-width="0.8"/>
<line x1="563.50" y1="172.10" x2="563.50" y2="174.40" stroke="#92acdc" stroke-width="0.8"/>
<text x="376.50" y="176.80" font-size="6.80" text-anchor="end" fill="#000">0</text>
<text x="376.50" y="159.32" font-size="6.80" text-anchor="end" fill="#000">20</text>
<text x="376.50" y="141.83" font-size="6.80" text-anchor="end" fill="#000">40</text>
<text x="376.50" y="124.35" font-size="6.80" text-anchor="end" fill="#000">60</text>
<text x="376.50" y="106.86" font-size="6.80" text-anchor="end" fill="#000">80</text>
<text x="376.50" y="89.38" font-size="6.80" text-anchor="end" fill="#000">100</text>
<text x="376.50" y="71.90" font-size="6.80" text-anchor="end" fill="#000">120</text>
<polygon points="464.10,125.68 470.70,125.68 473.50,123.78 473.50,123.18 466.90,123.18 464.10,125.08" fill="#2f4f89"/><polygon points="464.10,125.08 470.70,125.08 473.50,123.18 466.90,123.18" fill="#3a62a8"/><rect x="464.10" y="125.08" width="6.60" height="0.60" fill="#2f4f89"/>
<polygon points="486.40,125.68 493.00,125.68 495.80,123.78 495.80,123.18 489.20,123.18 486.40,125.08" fill="#2f4f89"/><polygon points="486.40,125.08 493.00,125.08 495.80,123.18 489.20,123.18" fill="#3a62a8"/><rect x="486.40" y="125.08" width="6.60" height="0.60" fill="#2f4f89"/>
<polygon points="508.70,125.68 515.30,125.68 518.10,123.78 518.10,123.18 511.50,123.18 508.70,125.08" fill="#2f4f89"/><polygon points="508.70,125.08 515.30,125.08 518.10,123.18 511.50,123.18" fill="#3a62a8"/><rect x="508.70" y="125.08" width="6.60" height="0.60" fill="#2f4f89"/>
<polygon points="531.00,125.68 537.60,125.68 540.40,123.78 540.40,109.20 533.80,109.20 531.00,111.10" fill="#2f4f89"/><polygon points="531.00,111.10 537.60,111.10 540.40,109.20 533.80,109.20" fill="#3a62a8"/><rect x="531.00" y="111.10" width="6.60" height="14.58" fill="#4472C4"/>
<polygon points="553.30,125.68 559.90,125.68 562.70,123.78 562.70,123.18 556.10,123.18 553.30,125.08" fill="#2f4f89"/><polygon points="553.30,125.08 559.90,125.08 562.70,123.18 556.10,123.18" fill="#3a62a8"/><rect x="553.30" y="125.08" width="6.60" height="0.60" fill="#2f4f89"/>
<polygon points="575.60,125.68 582.20,125.68 585.00,123.78 585.00,123.18 578.40,123.18 575.60,125.08" fill="#2f4f89"/><polygon points="575.60,125.08 582.20,125.08 585.00,123.18 578.40,123.18" fill="#3a62a8"/><rect x="575.60" y="125.08" width="6.60" height="0.60" fill="#2f4f89"/>
<polygon points="597.90,125.68 604.50,125.68 607.30,123.78 607.30,123.18 600.70,123.18 597.90,125.08" fill="#2f4f89"/><polygon points="597.90,125.08 604.50,125.08 607.30,123.18 600.70,123.18" fill="#3a62a8"/><rect x="597.90" y="125.08" width="6.60" height="0.60" fill="#2f4f89"/>
<polygon points="452.95,133.30 459.55,133.30 462.35,131.40 462.35,118.00 455.75,118.00 452.95,119.90" fill="#b28600"/><polygon points="452.95,119.90 459.55,119.90 462.35,118.00 455.75,118.00" fill="#dba500"/><rect x="452.95" y="119.90" width="6.60" height="13.40" fill="#FFC000"/>
<polygon points="475.25,133.30 481.85,133.30 484.65,131.40 484.65,126.70 478.05,126.70 475.25,128.60" fill="#b28600"/><polygon points="475.25,128.60 481.85,128.60 484.65,126.70 478.05,126.70" fill="#dba500"/><rect x="475.25" y="128.60" width="6.60" height="4.70" fill="#FFC000"/>
<polygon points="542.15,133.30 548.75,133.30 551.55,131.40 551.55,127.30 544.95,127.30 542.15,129.20" fill="#b28600"/><polygon points="542.15,129.20 548.75,129.20 551.55,127.30 544.95,127.30" fill="#dba500"/><rect x="542.15" y="129.20" width="6.60" height="4.10" fill="#FFC000"/>
<polygon points="609.05,133.30 615.65,133.30 618.45,131.40 618.45,130.80 611.85,130.80 609.05,132.70" fill="#b28600"/><polygon points="609.05,132.70 615.65,132.70 618.45,130.80 611.85,130.80" fill="#dba500"/><rect x="609.05" y="132.70" width="6.60" height="0.60" fill="#b28600"/>
<polygon points="508.70,140.92 515.30,140.92 518.10,139.02 518.10,138.42 511.50,138.42 508.70,140.32" fill="#a55722"/><polygon points="508.70,140.32 515.30,140.32 518.10,138.42 511.50,138.42" fill="#cb6b2a"/><rect x="508.70" y="140.32" width="6.60" height="0.60" fill="#a55722"/>
<polygon points="575.60,140.92 582.20,140.92 585.00,139.02 585.00,138.42 578.40,138.42 575.60,140.32" fill="#a55722"/><polygon points="575.60,140.32 582.20,140.32 585.00,138.42 578.40,138.42" fill="#cb6b2a"/><rect x="575.60" y="140.32" width="6.60" height="0.60" fill="#a55722"/>
<polygon points="475.25,148.54 481.85,148.54 484.65,146.64 484.65,144.80 478.05,144.80 475.25,146.70" fill="#1a2f54"/><polygon points="475.25,146.70 481.85,146.70 484.65,144.80 478.05,144.80" fill="#203a67"/><rect x="475.25" y="146.70" width="6.60" height="1.84" fill="#264478"/>
<polygon points="519.85,148.54 526.45,148.54 529.25,146.64 529.25,136.10 522.65,136.10 519.85,138.00" fill="#1a2f54"/><polygon points="519.85,138.00 526.45,138.00 529.25,136.10 522.65,136.10" fill="#203a67"/><rect x="519.85" y="138.00" width="6.60" height="10.54" fill="#264478"/>
<polygon points="564.45,148.54 571.05,148.54 573.85,146.64 573.85,146.04 567.25,146.04 564.45,147.94" fill="#1a2f54"/><polygon points="564.45,147.94 571.05,147.94 573.85,146.04 567.25,146.04" fill="#203a67"/><rect x="564.45" y="147.94" width="6.60" height="0.60" fill="#1a2f54"/>
<polygon points="441.80,156.16 448.40,156.16 451.20,154.26 451.20,153.66 444.60,153.66 441.80,155.56" fill="#4e7931"/><polygon points="441.80,155.56 448.40,155.56 451.20,153.66 444.60,153.66" fill="#60943d"/><rect x="441.80" y="155.56" width="6.60" height="0.60" fill="#4e7931"/>
<polygon points="464.10,156.16 470.70,156.16 473.50,154.26 473.50,141.30 466.90,141.30 464.10,143.20" fill="#4e7931"/><polygon points="464.10,143.20 470.70,143.20 473.50,141.30 466.90,141.30" fill="#60943d"/><rect x="464.10" y="143.20" width="6.60" height="12.96" fill="#70AD47"/>
<polygon points="508.70,156.16 515.30,156.16 518.10,154.26 518.10,152.10 511.50,152.10 508.70,154.00" fill="#4e7931"/><polygon points="508.70,154.00 515.30,154.00 518.10,152.10 511.50,152.10" fill="#60943d"/><rect x="508.70" y="154.00" width="6.60" height="2.16" fill="#70AD47"/>
<polygon points="553.30,156.16 559.90,156.16 562.70,154.26 562.70,153.66 556.10,153.66 553.30,155.56" fill="#4e7931"/><polygon points="553.30,155.56 559.90,155.56 562.70,153.66 556.10,153.66" fill="#60943d"/><rect x="553.30" y="155.56" width="6.60" height="0.60" fill="#4e7931"/>
<polygon points="430.65,163.78 437.25,163.78 440.05,161.88 440.05,155.00 433.45,155.00 430.65,156.90" fill="#3f6c95"/><polygon points="430.65,156.90 437.25,156.90 440.05,155.00 433.45,155.00" fill="#4e85b7"/><rect x="430.65" y="156.90" width="6.60" height="6.88" fill="#5B9BD5"/>
<polygon points="452.95,163.78 459.55,163.78 462.35,161.88 462.35,145.40 455.75,145.40 452.95,147.30" fill="#3f6c95"/><polygon points="452.95,147.30 459.55,147.30 462.35,145.40 455.75,145.40" fill="#4e85b7"/><rect x="452.95" y="147.30" width="6.60" height="16.48" fill="#5B9BD5"/>
<polygon points="497.55,163.78 504.15,163.78 506.95,161.88 506.95,59.10 500.35,59.10 497.55,61.00" fill="#3f6c95"/><polygon points="497.55,61.00 504.15,61.00 506.95,59.10 500.35,59.10" fill="#4e85b7"/><rect x="497.55" y="61.00" width="6.60" height="102.78" fill="#5B9BD5"/>
<polygon points="397.20,171.40 403.80,171.40 406.60,169.50 406.60,167.30 400.00,167.30 397.20,169.20" fill="#737373"/><polygon points="397.20,169.20 403.80,169.20 406.60,167.30 400.00,167.30" fill="#8d8d8d"/><rect x="397.20" y="169.20" width="6.60" height="2.20" fill="#A5A5A5"/>
<polygon points="419.50,171.40 426.10,171.40 428.90,169.50 428.90,168.90 422.30,168.90 419.50,170.80" fill="#737373"/><polygon points="419.50,170.80 426.10,170.80 428.90,168.90 422.30,168.90" fill="#8d8d8d"/><rect x="419.50" y="170.80" width="6.60" height="0.60" fill="#737373"/>
<polygon points="486.40,171.40 493.00,171.40 495.80,169.50 495.80,168.90 489.20,168.90 486.40,170.80" fill="#737373"/><polygon points="486.40,170.80 493.00,170.80 495.80,168.90 489.20,168.90" fill="#8d8d8d"/><rect x="486.40" y="170.80" width="6.60" height="0.60" fill="#737373"/>
<polygon points="553.30,171.40 559.90,171.40 562.70,169.50 562.70,164.00 556.10,164.00 553.30,165.90" fill="#737373"/><polygon points="553.30,165.90 559.90,165.90 562.70,164.00 556.10,164.00" fill="#8d8d8d"/><rect x="553.30" y="165.90" width="6.60" height="5.50" fill="#A5A5A5"/>
<text x="0" y="0" font-size="6.30" text-anchor="end" textLength="42.00" lengthAdjust="spacingAndGlyphs" transform="translate(397.19,184.00) rotate(-45)">FY2018 - 2nd H</text>
<text x="0" y="0" font-size="6.30" text-anchor="end" textLength="39.50" lengthAdjust="spacingAndGlyphs" transform="translate(419.56,184.00) rotate(-45)">FY2019 - 1st H</text>
<text x="0" y="0" font-size="6.30" text-anchor="end" textLength="42.00" lengthAdjust="spacingAndGlyphs" transform="translate(441.94,184.00) rotate(-45)">FY2019 - 2nd H</text>
<text x="0" y="0" font-size="6.30" text-anchor="end" textLength="39.50" lengthAdjust="spacingAndGlyphs" transform="translate(464.31,184.00) rotate(-45)">FY2020 - 1st H</text>
<text x="0" y="0" font-size="6.30" text-anchor="end" textLength="42.00" lengthAdjust="spacingAndGlyphs" transform="translate(486.69,184.00) rotate(-45)">FY2020 - 2nd H</text>
<text x="0" y="0" font-size="6.30" text-anchor="end" textLength="39.50" lengthAdjust="spacingAndGlyphs" transform="translate(509.06,184.00) rotate(-45)">FY2021 - 1st H</text>
<text x="0" y="0" font-size="6.30" text-anchor="end" textLength="42.00" lengthAdjust="spacingAndGlyphs" transform="translate(531.44,184.00) rotate(-45)">FY2021 - 2nd H</text>
<text x="0" y="0" font-size="6.30" text-anchor="end" textLength="39.50" lengthAdjust="spacingAndGlyphs" transform="translate(553.81,184.00) rotate(-45)">FY2022 - 1st H</text>
<text x="577.00" y="173.00" font-size="6.30" textLength="10.60" lengthAdjust="spacingAndGlyphs" fill="#000">CC2</text>
<text x="588.00" y="165.50" font-size="6.30" textLength="16.40" lengthAdjust="spacingAndGlyphs" fill="#000">CC3-3</text>
<text x="599.00" y="158.00" font-size="6.30" textLength="16.70" lengthAdjust="spacingAndGlyphs" fill="#000">CC4-2</text>
<text x="610.00" y="150.50" font-size="6.30" textLength="16.40" lengthAdjust="spacingAndGlyphs" fill="#000">CC4-1</text>
<text x="621.00" y="143.00" font-size="6.30" textLength="12.30" lengthAdjust="spacingAndGlyphs" fill="#000">SEM</text>
<text x="632.00" y="135.50" font-size="6.30" textLength="29.00" lengthAdjust="spacingAndGlyphs" fill="#000">HY1 Room</text>
<text x="643.00" y="128.00" font-size="6.30" textLength="29.10" lengthAdjust="spacingAndGlyphs" fill="#000">HY2 Room</text>
<g transform="translate(356.00,56.60) scale(1.120,1)"><text x="0" y="0" font-size="6.30" fill="#000">E<tspan font-size="4.28" dy="-2.2">9</tspan><tspan dy="2.2">atoms/cm</tspan><tspan font-size="4.28" dy="-2.2">2</tspan></text></g>
<text x="518.90" y="12.50" font-size="14.00" textLength="12.30" lengthAdjust="spacingAndGlyphs" fill="#000" style="stroke-width:0.35px">Ni</text>
<polyline points="394.30,394.40 473.40,340.50 654.00,340.50" fill="none" stroke="#e0e0e0" stroke-width="0.8"/>
<polyline points="394.30,381.97 473.40,328.01 654.00,328.01" fill="none" stroke="#e0e0e0" stroke-width="0.8"/>
<polyline points="394.30,369.55 473.40,315.52 654.00,315.52" fill="none" stroke="#e0e0e0" stroke-width="0.8"/>
<polyline points="394.30,357.12 473.40,303.03 654.00,303.03" fill="none" stroke="#e0e0e0" stroke-width="0.8"/>
<polyline points="394.30,344.70 473.40,290.54 654.00,290.54" fill="none" stroke="#e0e0e0" stroke-width="0.8"/>
<polyline points="394.30,332.27 473.40,278.05 654.00,278.05" fill="none" stroke="#e0e0e0" stroke-width="0.8"/>
<polyline points="394.30,319.85 473.40,265.56 654.00,265.56" fill="none" stroke="#e0e0e0" stroke-width="0.8"/>
<polyline points="394.30,307.42 473.40,253.07 654.00,253.07" fill="none" stroke="#e0e0e0" stroke-width="0.8"/>
<polyline points="394.30,295.00 473.40,240.58 654.00,240.58" fill="none" stroke="#e0e0e0" stroke-width="0.8"/>
<line x1="394.30" y1="394.40" x2="575.02" y2="394.40" stroke="#92acdc" stroke-width="0.9"/>
<line x1="394.30" y1="392.10" x2="394.30" y2="394.40" stroke="#92acdc" stroke-width="0.8"/>
<line x1="416.89" y1="392.10" x2="416.89" y2="394.40" stroke="#92acdc" stroke-width="0.8"/>
<line x1="439.48" y1="392.10" x2="439.48" y2="394.40" stroke="#92acdc" stroke-width="0.8"/>
<line x1="462.07" y1="392.10" x2="462.07" y2="394.40" stroke="#92acdc" stroke-width="0.8"/>
<line x1="484.66" y1="392.10" x2="484.66" y2="394.40" stroke="#92acdc" stroke-width="0.8"/>
<line x1="507.25" y1="392.10" x2="507.25" y2="394.40" stroke="#92acdc" stroke-width="0.8"/>
<line x1="529.84" y1="392.10" x2="529.84" y2="394.40" stroke="#92acdc" stroke-width="0.8"/>
<line x1="552.43" y1="392.10" x2="552.43" y2="394.40" stroke="#92acdc" stroke-width="0.8"/>
<line x1="575.02" y1="392.10" x2="575.02" y2="394.40" stroke="#92acdc" stroke-width="0.8"/>
<text x="386.70" y="396.80" font-size="6.80" text-anchor="end" fill="#000">0</text>
<text x="386.70" y="384.37" font-size="6.80" text-anchor="end" fill="#000">10</text>
<text x="386.70" y="371.95" font-size="6.80" text-anchor="end" fill="#000">20</text>
<text x="386.70" y="359.52" font-size="6.80" text-anchor="end" fill="#000">30</text>
<text x="386.70" y="347.10" font-size="6.80" text-anchor="end" fill="#000">40</text>
<text x="386.70" y="334.67" font-size="6.80" text-anchor="end" fill="#000">50</text>
<text x="386.70" y="322.25" font-size="6.80" text-anchor="end" fill="#000">60</text>
<text x="386.70" y="309.82" font-size="6.80" text-anchor="end" fill="#000">70</text>
<text x="386.70" y="297.40" font-size="6.80" text-anchor="end" fill="#000">80</text>
<polygon points="497.40,344.98 504.00,344.98 506.80,343.08 506.80,342.48 500.20,342.48 497.40,344.38" fill="#2f4f89"/><polygon points="497.40,344.38 504.00,344.38 506.80,342.48 500.20,342.48" fill="#3a62a8"/><rect x="497.40" y="344.38" width="6.60" height="0.60" fill="#2f4f89"/>
<polygon points="520.00,344.98 526.60,344.98 529.40,343.08 529.40,342.48 522.80,342.48 520.00,344.38" fill="#2f4f89"/><polygon points="520.00,344.38 526.60,344.38 529.40,342.48 522.80,342.48" fill="#3a62a8"/><rect x="520.00" y="344.38" width="6.60" height="0.60" fill="#2f4f89"/>
<polygon points="542.60,344.98 549.20,344.98 552.00,343.08 552.00,316.80 545.40,316.80 542.60,318.70" fill="#2f4f89"/><polygon points="542.60,318.70 549.20,318.70 552.00,316.80 545.40,316.80" fill="#3a62a8"/><rect x="542.60" y="318.70" width="6.60" height="26.28" fill="#4472C4"/>
<polygon points="565.20,344.98 571.80,344.98 574.60,343.08 574.60,342.48 568.00,342.48 565.20,344.38" fill="#2f4f89"/><polygon points="565.20,344.38 571.80,344.38 574.60,342.48 568.00,342.48" fill="#3a62a8"/><rect x="565.20" y="344.38" width="6.60" height="0.60" fill="#2f4f89"/>
<polygon points="587.80,344.98 594.40,344.98 597.20,343.08 597.20,342.48 590.60,342.48 587.80,344.38" fill="#2f4f89"/><polygon points="587.80,344.38 594.40,344.38 597.20,342.48 590.60,342.48" fill="#3a62a8"/><rect x="587.80" y="344.38" width="6.60" height="0.60" fill="#2f4f89"/>
<polygon points="610.40,344.98 617.00,344.98 619.80,343.08 619.80,342.48 613.20,342.48 610.40,344.38" fill="#2f4f89"/><polygon points="610.40,344.38 617.00,344.38 619.80,342.48 613.20,342.48" fill="#3a62a8"/><rect x="610.40" y="344.38" width="6.60" height="0.60" fill="#2f4f89"/>
<polygon points="463.50,352.70 470.10,352.70 472.90,350.80 472.90,325.30 466.30,325.30 463.50,327.20" fill="#b28600"/><polygon points="463.50,327.20 470.10,327.20 472.90,325.30 466.30,325.30" fill="#dba500"/><rect x="463.50" y="327.20" width="6.60" height="25.50" fill="#FFC000"/>
<polygon points="486.10,352.70 492.70,352.70 495.50,350.80 495.50,339.50 488.90,339.50 486.10,341.40" fill="#b28600"/><polygon points="486.10,341.40 492.70,341.40 495.50,339.50 488.90,339.50" fill="#dba500"/><rect x="486.10" y="341.40" width="6.60" height="11.30" fill="#FFC000"/>
<polygon points="553.90,352.70 560.50,352.70 563.30,350.80 563.30,350.20 556.70,350.20 553.90,352.10" fill="#b28600"/><polygon points="553.90,352.10 560.50,352.10 563.30,350.20 556.70,350.20" fill="#dba500"/><rect x="553.90" y="352.10" width="6.60" height="0.60" fill="#b28600"/>
<polygon points="621.70,352.70 628.30,352.70 631.10,350.80 631.10,350.20 624.50,350.20 621.70,352.10" fill="#b28600"/><polygon points="621.70,352.10 628.30,352.10 631.10,350.20 624.50,350.20" fill="#dba500"/><rect x="621.70" y="352.10" width="6.60" height="0.60" fill="#b28600"/>
<polygon points="520.00,360.42 526.60,360.42 529.40,358.52 529.40,357.92 522.80,357.92 520.00,359.82" fill="#a55722"/><polygon points="520.00,359.82 526.60,359.82 529.40,357.92 522.80,357.92" fill="#cb6b2a"/><rect x="520.00" y="359.82" width="6.60" height="0.60" fill="#a55722"/>
<polygon points="587.80,360.42 594.40,360.42 597.20,358.52 597.20,357.92 590.60,357.92 587.80,359.82" fill="#a55722"/><polygon points="587.80,359.82 594.40,359.82 597.20,357.92 590.60,357.92" fill="#cb6b2a"/><rect x="587.80" y="359.82" width="6.60" height="0.60" fill="#a55722"/>
<polygon points="486.10,368.14 492.70,368.14 495.50,366.24 495.50,361.40 488.90,361.40 486.10,363.30" fill="#1a2f54"/><polygon points="486.10,363.30 492.70,363.30 495.50,361.40 488.90,361.40" fill="#203a67"/><rect x="486.10" y="363.30" width="6.60" height="4.84" fill="#264478"/>
<polygon points="531.30,368.14 537.90,368.14 540.70,366.24 540.70,361.40 534.10,361.40 531.30,363.30" fill="#1a2f54"/><polygon points="531.30,363.30 537.90,363.30 540.70,361.40 534.10,361.40" fill="#203a67"/><rect x="531.30" y="363.30" width="6.60" height="4.84" fill="#264478"/>
<polygon points="576.50,368.14 583.10,368.14 585.90,366.24 585.90,365.64 579.30,365.64 576.50,367.54" fill="#1a2f54"/><polygon points="576.50,367.54 583.10,367.54 585.90,365.64 579.30,365.64" fill="#203a67"/><rect x="576.50" y="367.54" width="6.60" height="0.60" fill="#1a2f54"/>
<polygon points="452.20,375.86 458.80,375.86 461.60,373.96 461.60,373.36 455.00,373.36 452.20,375.26" fill="#4e7931"/><polygon points="452.20,375.26 458.80,375.26 461.60,373.36 455.00,373.36" fill="#60943d"/><rect x="452.20" y="375.26" width="6.60" height="0.60" fill="#4e7931"/>
<polygon points="474.80,375.86 481.40,375.86 484.20,373.96 484.20,329.70 477.60,329.70 474.80,331.60" fill="#4e7931"/><polygon points="474.80,331.60 481.40,331.60 484.20,329.70 477.60,329.70" fill="#60943d"/><rect x="474.80" y="331.60" width="6.60" height="44.26" fill="#70AD47"/>
<polygon points="520.00,375.86 526.60,375.86 529.40,373.96 529.40,373.36 522.80,373.36 520.00,375.26" fill="#4e7931"/><polygon points="520.00,375.26 526.60,375.26 529.40,373.36 522.80,373.36" fill="#60943d"/><rect x="520.00" y="375.26" width="6.60" height="0.60" fill="#4e7931"/>
<polygon points="565.20,375.86 571.80,375.86 574.60,373.96 574.60,373.36 568.00,373.36 565.20,375.26" fill="#4e7931"/><polygon points="565.20,375.26 571.80,375.26 574.60,373.36 568.00,373.36" fill="#60943d"/><rect x="565.20" y="375.26" width="6.60" height="0.60" fill="#4e7931"/>
<polygon points="440.90,383.58 447.50,383.58 450.30,381.68 450.30,363.30 443.70,363.30 440.90,365.20" fill="#3f6c95"/><polygon points="440.90,365.20 447.50,365.20 450.30,363.30 443.70,363.30" fill="#4e85b7"/><rect x="440.90" y="365.20" width="6.60" height="18.38" fill="#5B9BD5"/>
<polygon points="463.50,383.58 470.10,383.58 472.90,381.68 472.90,344.60 466.30,344.60 463.50,346.50" fill="#3f6c95"/><polygon points="463.50,346.50 470.10,346.50 472.90,344.60 466.30,344.60" fill="#4e85b7"/><rect x="463.50" y="346.50" width="6.60" height="37.08" fill="#5B9BD5"/>
<polygon points="508.70,383.58 515.30,383.58 518.10,381.68 518.10,289.10 511.50,289.10 508.70,291.00" fill="#3f6c95"/><polygon points="508.70,291.00 515.30,291.00 518.10,289.10 511.50,289.10" fill="#4e85b7"/><rect x="508.70" y="291.00" width="6.60" height="92.58" fill="#5B9BD5"/>
<polygon points="407.00,391.30 413.60,391.30 416.40,389.40 416.40,382.60 409.80,382.60 407.00,384.50" fill="#737373"/><polygon points="407.00,384.50 413.60,384.50 416.40,382.60 409.80,382.60" fill="#8d8d8d"/><rect x="407.00" y="384.50" width="6.60" height="6.80" fill="#A5A5A5"/>
<polygon points="429.60,391.30 436.20,391.30 439.00,389.40 439.00,388.80 432.40,388.80 429.60,390.70" fill="#737373"/><polygon points="429.60,390.70 436.20,390.70 439.00,388.80 432.40,388.80" fill="#8d8d8d"/><rect x="429.60" y="390.70" width="6.60" height="0.60" fill="#737373"/>
<polygon points="497.40,391.30 504.00,391.30 506.80,389.40 506.80,388.80 500.20,388.80 497.40,390.70" fill="#737373"/><polygon points="497.40,390.70 504.00,390.70 506.80,388.80 500.20,388.80" fill="#8d8d8d"/><rect x="497.40" y="390.70" width="6.60" height="0.60" fill="#737373"/>
<polygon points="565.20,391.30 571.80,391.30 574.60,389.40 574.60,374.70 568.00,374.70 565.20,376.60" fill="#737373"/><polygon points="565.20,376.60 571.80,376.60 574.60,374.70 568.00,374.70" fill="#8d8d8d"/><rect x="565.20" y="376.60" width="6.60" height="14.70" fill="#A5A5A5"/>
<text x="0" y="0" font-size="6.30" text-anchor="end" textLength="42.00" lengthAdjust="spacingAndGlyphs" transform="translate(407.20,404.20) rotate(-45)">FY2018 - 2nd H</text>
<text x="0" y="0" font-size="6.30" text-anchor="end" textLength="39.50" lengthAdjust="spacingAndGlyphs" transform="translate(429.79,404.20) rotate(-45)">FY2019 - 1st H</text>
<text x="0" y="0" font-size="6.30" text-anchor="end" textLength="42.00" lengthAdjust="spacingAndGlyphs" transform="translate(452.38,404.20) rotate(-45)">FY2019 - 2nd H</text>
<text x="0" y="0" font-size="6.30" text-anchor="end" textLength="39.50" lengthAdjust="spacingAndGlyphs" transform="translate(474.97,404.20) rotate(-45)">FY2020 - 1st H</text>
<text x="0" y="0" font-size="6.30" text-anchor="end" textLength="42.00" lengthAdjust="spacingAndGlyphs" transform="translate(497.56,404.20) rotate(-45)">FY2020 - 2nd H</text>
<text x="0" y="0" font-size="6.30" text-anchor="end" textLength="39.50" lengthAdjust="spacingAndGlyphs" transform="translate(520.15,404.20) rotate(-45)">FY2021 - 1st H</text>
<text x="0" y="0" font-size="6.30" text-anchor="end" textLength="42.00" lengthAdjust="spacingAndGlyphs" transform="translate(542.74,404.20) rotate(-45)">FY2021 - 2nd H</text>
<text x="0" y="0" font-size="6.30" text-anchor="end" textLength="39.50" lengthAdjust="spacingAndGlyphs" transform="translate(565.33,404.20) rotate(-45)">FY2022 - 1st H</text>
<text x="588.80" y="393.20" font-size="6.30" textLength="10.60" lengthAdjust="spacingAndGlyphs" fill="#000">CC2</text>
<text x="599.97" y="385.53" font-size="6.30" textLength="16.40" lengthAdjust="spacingAndGlyphs" fill="#000">CC3-3</text>
<text x="611.14" y="377.86" font-size="6.30" textLength="16.70" lengthAdjust="spacingAndGlyphs" fill="#000">CC4-2</text>
<text x="622.31" y="370.19" font-size="6.30" textLength="16.40" lengthAdjust="spacingAndGlyphs" fill="#000">CC4-1</text>
<text x="633.48" y="362.52" font-size="6.30" textLength="12.30" lengthAdjust="spacingAndGlyphs" fill="#000">SEM</text>
<text x="644.65" y="354.85" font-size="6.30" textLength="29.00" lengthAdjust="spacingAndGlyphs" fill="#000">HY1 Room</text>
<text x="655.82" y="347.18" font-size="6.30" textLength="29.10" lengthAdjust="spacingAndGlyphs" fill="#000">HY2 Room</text>
<g transform="translate(365.50,282.10) scale(1.120,1)"><text x="0" y="0" font-size="6.30" fill="#000">E<tspan font-size="4.28" dy="-2.2">9</tspan><tspan dy="2.2">atoms/cm</tspan><tspan font-size="4.28" dy="-2.2">2</tspan></text></g>
<text x="528.00" y="236.50" font-size="14.70" textLength="13.20" lengthAdjust="spacingAndGlyphs" fill="#000" style="stroke-width:0.35px">Cr</text>
<polyline points="394.30,619.40 473.40,565.40 654.20,565.40" fill="none" stroke="#e0e0e0" stroke-width="0.8"/>
<polyline points="394.30,604.40 473.40,550.37 654.20,550.37" fill="none" stroke="#e0e0e0" stroke-width="0.8"/>
<polyline points="394.30,589.40 473.40,535.34 654.20,535.34" fill="none" stroke="#e0e0e0" stroke-width="0.8"/>
<polyline points="394.30,574.40 473.40,520.31 654.20,520.31" fill="none" stroke="#e0e0e0" stroke-width="0.8"/>
<polyline points="394.30,559.40 473.40,505.28 654.20,505.28" fill="none" stroke="#e0e0e0" stroke-width="0.8"/>
<polyline points="394.30,544.40 473.40,490.25 654.20,490.25" fill="none" stroke="#e0e0e0" stroke-width="0.8"/>
<polyline points="394.30,529.40 473.40,475.22 654.20,475.22" fill="none" stroke="#e0e0e0" stroke-width="0.8"/>
<polyline points="394.30,514.40 473.40,460.19 654.20,460.19" fill="none" stroke="#e0e0e0" stroke-width="0.8"/>
<line x1="394.30" y1="619.40" x2="575.02" y2="619.40" stroke="#92acdc" stroke-width="0.9"/>
<line x1="394.30" y1="617.10" x2="394.30" y2="619.40" stroke="#92acdc" stroke-width="0.8"/>
<line x1="416.89" y1="617.10" x2="416.89" y2="619.40" stroke="#92acdc" stroke-width="0.8"/>
<line x1="439.48" y1="617.10" x2="439.48" y2="619.40" stroke="#92acdc" stroke-width="0.8"/>
<line x1="462.07" y1="617.10" x2="462.07" y2="619.40" stroke="#92acdc" stroke-width="0.8"/>
<line x1="484.66" y1="617.10" x2="484.66" y2="619.40" stroke="#92acdc" stroke-width="0.8"/>
<line x1="507.25" y1="617.10" x2="507.25" y2="619.40" stroke="#92acdc" stroke-width="0.8"/>
<line x1="529.84" y1="617.10" x2="529.84" y2="619.40" stroke="#92acdc" stroke-width="0.8"/>
<line x1="552.43" y1="617.10" x2="552.43" y2="619.40" stroke="#92acdc" stroke-width="0.8"/>
<line x1="575.02" y1="617.10" x2="575.02" y2="619.40" stroke="#92acdc" stroke-width="0.8"/>
<text x="386.70" y="621.80" font-size="6.80" text-anchor="end" fill="#000">0</text>
<text x="386.70" y="606.80" font-size="6.80" text-anchor="end" fill="#000">50</text>
<text x="386.70" y="591.80" font-size="6.80" text-anchor="end" fill="#000">100</text>
<text x="386.70" y="576.80" font-size="6.80" text-anchor="end" fill="#000">150</text>
<text x="386.70" y="561.80" font-size="6.80" text-anchor="end" fill="#000">200</text>
<text x="386.70" y="546.80" font-size="6.80" text-anchor="end" fill="#000">250</text>
<text x="386.70" y="531.80" font-size="6.80" text-anchor="end" fill="#000">300</text>
<text x="386.70" y="516.80" font-size="6.80" text-anchor="end" fill="#000">350</text>
<polygon points="474.80,570.60 481.40,570.60 484.20,568.70 484.20,568.10 477.60,568.10 474.80,570.00" fill="#2f4f89"/><polygon points="474.80,570.00 481.40,570.00 484.20,568.10 477.60,568.10" fill="#3a62a8"/><rect x="474.80" y="570.00" width="6.60" height="0.60" fill="#2f4f89"/>
<polygon points="497.40,570.60 504.00,570.60 506.80,568.70 506.80,568.10 500.20,568.10 497.40,570.00" fill="#2f4f89"/><polygon points="497.40,570.00 504.00,570.00 506.80,568.10 500.20,568.10" fill="#3a62a8"/><rect x="497.40" y="570.00" width="6.60" height="0.60" fill="#2f4f89"/>
<polygon points="520.00,570.60 526.60,570.60 529.40,568.70 529.40,568.10 522.80,568.10 520.00,570.00" fill="#2f4f89"/><polygon points="520.00,570.00 526.60,570.00 529.40,568.10 522.80,568.10" fill="#3a62a8"/><rect x="520.00" y="570.00" width="6.60" height="0.60" fill="#2f4f89"/>
<polygon points="542.60,570.60 549.20,570.60 552.00,568.70 552.00,568.10 545.40,568.10 542.60,570.00" fill="#2f4f89"/><polygon points="542.60,570.00 549.20,570.00 552.00,568.10 545.40,568.10" fill="#3a62a8"/><rect x="542.60" y="570.00" width="6.60" height="0.60" fill="#2f4f89"/>
<polygon points="565.20,570.60 571.80,570.60 574.60,568.70 574.60,568.10 568.00,568.10 565.20,570.00" fill="#2f4f89"/><polygon points="565.20,570.00 571.80,570.00 574.60,568.10 568.00,568.10" fill="#3a62a8"/><rect x="565.20" y="570.00" width="6.60" height="0.60" fill="#2f4f89"/>
<polygon points="587.80,570.60 594.40,570.60 597.20,568.70 597.20,476.90 590.60,476.90 587.80,478.80" fill="#2f4f89"/><polygon points="587.80,478.80 594.40,478.80 597.20,476.90 590.60,476.90" fill="#3a62a8"/><rect x="587.80" y="478.80" width="6.60" height="91.80" fill="#4472C4"/>
<polygon points="610.40,570.60 617.00,570.60 619.80,568.70 619.80,568.10 613.20,568.10 610.40,570.00" fill="#2f4f89"/><polygon points="610.40,570.00 617.00,570.00 619.80,568.10 613.20,568.10" fill="#3a62a8"/><rect x="610.40" y="570.00" width="6.60" height="0.60" fill="#2f4f89"/>
<polygon points="463.50,578.20 470.10,578.20 472.90,576.30 472.90,575.30 466.30,575.30 463.50,577.20" fill="#b28600"/><polygon points="463.50,577.20 470.10,577.20 472.90,575.30 466.30,575.30" fill="#dba500"/><rect x="463.50" y="577.20" width="6.60" height="1.00" fill="#b28600"/>
<polygon points="486.10,578.20 492.70,578.20 495.50,576.30 495.50,564.10 488.90,564.10 486.10,566.00" fill="#b28600"/><polygon points="486.10,566.00 492.70,566.00 495.50,564.10 488.90,564.10" fill="#dba500"/><rect x="486.10" y="566.00" width="6.60" height="12.20" fill="#FFC000"/>
<polygon points="553.90,578.20 560.50,578.20 563.30,576.30 563.30,573.00 556.70,573.00 553.90,574.90" fill="#b28600"/><polygon points="553.90,574.90 560.50,574.90 563.30,573.00 556.70,573.00" fill="#dba500"/><rect x="553.90" y="574.90" width="6.60" height="3.30" fill="#FFC000"/>
<polygon points="621.70,578.20 628.30,578.20 631.10,576.30 631.10,575.70 624.50,575.70 621.70,577.60" fill="#b28600"/><polygon points="621.70,577.60 628.30,577.60 631.10,575.70 624.50,575.70" fill="#dba500"/><rect x="621.70" y="577.60" width="6.60" height="0.60" fill="#b28600"/>
<polygon points="520.00,585.80 526.60,585.80 529.40,583.90 529.40,583.30 522.80,583.30 520.00,585.20" fill="#a55722"/><polygon points="520.00,585.20 526.60,585.20 529.40,583.30 522.80,583.30" fill="#cb6b2a"/><rect x="520.00" y="585.20" width="6.60" height="0.60" fill="#a55722"/>
<polygon points="587.80,585.80 594.40,585.80 597.20,583.90 597.20,583.30 590.60,583.30 587.80,585.20" fill="#a55722"/><polygon points="587.80,585.20 594.40,585.20 597.20,583.30 590.60,583.30" fill="#cb6b2a"/><rect x="587.80" y="585.20" width="6.60" height="0.60" fill="#a55722"/>
<polygon points="486.10,593.40 492.70,593.40 495.50,591.50 495.50,590.90 488.90,590.90 486.10,592.80" fill="#1a2f54"/><polygon points="486.10,592.80 492.70,592.80 495.50,590.90 488.90,590.90" fill="#203a67"/><rect x="486.10" y="592.80" width="6.60" height="0.60" fill="#1a2f54"/>
<polygon points="531.30,593.40 537.90,593.40 540.70,591.50 540.70,590.90 534.10,590.90 531.30,592.80" fill="#1a2f54"/><polygon points="531.30,592.80 537.90,592.80 540.70,590.90 534.10,590.90" fill="#203a67"/><rect x="531.30" y="592.80" width="6.60" height="0.60" fill="#1a2f54"/>
<polygon points="576.50,593.40 583.10,593.40 585.90,591.50 585.90,590.90 579.30,590.90 576.50,592.80" fill="#1a2f54"/><polygon points="576.50,592.80 583.10,592.80 585.90,590.90 579.30,590.90" fill="#203a67"/><rect x="576.50" y="592.80" width="6.60" height="0.60" fill="#1a2f54"/>
<polygon points="452.20,601.00 458.80,601.00 461.60,599.10 461.60,598.50 455.00,598.50 452.20,600.40" fill="#4e7931"/><polygon points="452.20,600.40 458.80,600.40 461.60,598.50 455.00,598.50" fill="#60943d"/><rect x="452.20" y="600.40" width="6.60" height="0.60" fill="#4e7931"/>
<polygon points="474.80,601.00 481.40,601.00 484.20,599.10 484.20,598.50 477.60,598.50 474.80,600.40" fill="#4e7931"/><polygon points="474.80,600.40 481.40,600.40 484.20,598.50 477.60,598.50" fill="#60943d"/><rect x="474.80" y="600.40" width="6.60" height="0.60" fill="#4e7931"/>
<polygon points="520.00,601.00 526.60,601.00 529.40,599.10 529.40,598.50 522.80,598.50 520.00,600.40" fill="#4e7931"/><polygon points="520.00,600.40 526.60,600.40 529.40,598.50 522.80,598.50" fill="#60943d"/><rect x="520.00" y="600.40" width="6.60" height="0.60" fill="#4e7931"/>
<polygon points="565.20,601.00 571.80,601.00 574.60,599.10 574.60,598.50 568.00,598.50 565.20,600.40" fill="#4e7931"/><polygon points="565.20,600.40 571.80,600.40 574.60,598.50 568.00,598.50" fill="#60943d"/><rect x="565.20" y="600.40" width="6.60" height="0.60" fill="#4e7931"/>
<polygon points="440.90,608.60 447.50,608.60 450.30,606.70 450.30,606.10 443.70,606.10 440.90,608.00" fill="#3f6c95"/><polygon points="440.90,608.00 447.50,608.00 450.30,606.10 443.70,606.10" fill="#4e85b7"/><rect x="440.90" y="608.00" width="6.60" height="0.60" fill="#3f6c95"/>
<polygon points="463.50,608.60 470.10,608.60 472.90,606.70 472.90,578.70 466.30,578.70 463.50,580.60" fill="#3f6c95"/><polygon points="463.50,580.60 470.10,580.60 472.90,578.70 466.30,578.70" fill="#4e85b7"/><rect x="463.50" y="580.60" width="6.60" height="28.00" fill="#5B9BD5"/>
<polygon points="508.70,608.60 515.30,608.60 518.10,606.70 518.10,604.50 511.50,604.50 508.70,606.40" fill="#3f6c95"/><polygon points="508.70,606.40 515.30,606.40 518.10,604.50 511.50,604.50" fill="#4e85b7"/><rect x="508.70" y="606.40" width="6.60" height="2.20" fill="#5B9BD5"/>
<polygon points="407.00,616.20 413.60,616.20 416.40,614.30 416.40,613.70 409.80,613.70 407.00,615.60" fill="#737373"/><polygon points="407.00,615.60 413.60,615.60 416.40,613.70 409.80,613.70" fill="#8d8d8d"/><rect x="407.00" y="615.60" width="6.60" height="0.60" fill="#737373"/>
<polygon points="429.60,616.20 436.20,616.20 439.00,614.30 439.00,608.90 432.40,608.90 429.60,610.80" fill="#737373"/><polygon points="429.60,610.80 436.20,610.80 439.00,608.90 432.40,608.90" fill="#8d8d8d"/><rect x="429.60" y="610.80" width="6.60" height="5.40" fill="#A5A5A5"/>
<polygon points="497.40,616.20 504.00,616.20 506.80,614.30 506.80,613.70 500.20,613.70 497.40,615.60" fill="#737373"/><polygon points="497.40,615.60 504.00,615.60 506.80,613.70 500.20,613.70" fill="#8d8d8d"/><rect x="497.40" y="615.60" width="6.60" height="0.60" fill="#737373"/>
<polygon points="565.20,616.20 571.80,616.20 574.60,614.30 574.60,613.70 568.00,613.70 565.20,615.60" fill="#737373"/><polygon points="565.20,615.60 571.80,615.60 574.60,613.70 568.00,613.70" fill="#8d8d8d"/><rect x="565.20" y="615.60" width="6.60" height="0.60" fill="#737373"/>
<text x="0" y="0" font-size="6.30" text-anchor="end" textLength="42.00" lengthAdjust="spacingAndGlyphs" transform="translate(407.20,629.00) rotate(-45)">FY2018 - 2nd H</text>
<text x="0" y="0" font-size="6.30" text-anchor="end" textLength="39.50" lengthAdjust="spacingAndGlyphs" transform="translate(429.79,629.00) rotate(-45)">FY2019 - 1st H</text>
<text x="0" y="0" font-size="6.30" text-anchor="end" textLength="42.00" lengthAdjust="spacingAndGlyphs" transform="translate(452.38,629.00) rotate(-45)">FY2019 - 2nd H</text>
<text x="0" y="0" font-size="6.30" text-anchor="end" textLength="39.50" lengthAdjust="spacingAndGlyphs" transform="translate(474.97,629.00) rotate(-45)">FY2020 - 1st H</text>
<text x="0" y="0" font-size="6.30" text-anchor="end" textLength="42.00" lengthAdjust="spacingAndGlyphs" transform="translate(497.56,629.00) rotate(-45)">FY2020 - 2nd H</text>
<text x="0" y="0" font-size="6.30" text-anchor="end" textLength="39.50" lengthAdjust="spacingAndGlyphs" transform="translate(520.15,629.00) rotate(-45)">FY2021 - 1st H</text>
<text x="0" y="0" font-size="6.30" text-anchor="end" textLength="42.00" lengthAdjust="spacingAndGlyphs" transform="translate(542.74,629.00) rotate(-45)">FY2021 - 2nd H</text>
<text x="0" y="0" font-size="6.30" text-anchor="end" textLength="39.50" lengthAdjust="spacingAndGlyphs" transform="translate(565.33,629.00) rotate(-45)">FY2022 - 1st H</text>
<text x="588.90" y="618.10" font-size="6.30" textLength="10.60" lengthAdjust="spacingAndGlyphs" fill="#000">CC2</text>
<text x="600.07" y="610.43" font-size="6.30" textLength="16.40" lengthAdjust="spacingAndGlyphs" fill="#000">CC3-3</text>
<text x="611.24" y="602.76" font-size="6.30" textLength="16.70" lengthAdjust="spacingAndGlyphs" fill="#000">CC4-2</text>
<text x="622.41" y="595.09" font-size="6.30" textLength="16.40" lengthAdjust="spacingAndGlyphs" fill="#000">CC4-1</text>
<text x="633.58" y="587.42" font-size="6.30" textLength="12.30" lengthAdjust="spacingAndGlyphs" fill="#000">SEM</text>
<text x="644.75" y="579.75" font-size="6.30" textLength="29.00" lengthAdjust="spacingAndGlyphs" fill="#000">HY1 Room</text>
<text x="655.92" y="572.08" font-size="6.30" textLength="29.10" lengthAdjust="spacingAndGlyphs" fill="#000">HY2 Room</text>
<g transform="translate(365.50,498.60) scale(1.120,1)"><text x="0" y="0" font-size="6.30" fill="#000">E<tspan font-size="4.28" dy="-2.2">9</tspan><tspan dy="2.2">atoms/cm</tspan><tspan font-size="4.28" dy="-2.2">2</tspan></text></g>
<text x="528.20" y="457.50" font-size="14.20" textLength="15.10" lengthAdjust="spacingAndGlyphs" fill="#000" style="stroke-width:0.35px">Cu</text>
<polyline points="30.10,690.20 113.60,633.40 302.80,633.40" fill="none" stroke="#e0e0e0" stroke-width="0.8"/>
<polyline points="30.10,677.25 113.60,620.49 302.80,620.49" fill="none" stroke="#e0e0e0" stroke-width="0.8"/>
<polyline points="30.10,664.30 113.60,607.57 302.80,607.57" fill="none" stroke="#e0e0e0" stroke-width="0.8"/>
<polyline points="30.10,651.35 113.60,594.65 302.80,594.65" fill="none" stroke="#e0e0e0" stroke-width="0.8"/>
<polyline points="30.10,638.40 113.60,581.74 302.80,581.74" fill="none" stroke="#e0e0e0" stroke-width="0.8"/>
<polyline points="30.10,625.45 113.60,568.83 302.80,568.83" fill="none" stroke="#e0e0e0" stroke-width="0.8"/>
<polyline points="30.10,612.50 113.60,555.91 302.80,555.91" fill="none" stroke="#e0e0e0" stroke-width="0.8"/>
<polyline points="30.10,599.55 113.60,543.00 302.80,543.00" fill="none" stroke="#e0e0e0" stroke-width="0.8"/>
<polyline points="30.10,586.60 113.60,530.08 302.80,530.08" fill="none" stroke="#e0e0e0" stroke-width="0.8"/>
<line x1="30.10" y1="690.20" x2="219.62" y2="690.20" stroke="#92acdc" stroke-width="0.9"/>
<line x1="30.10" y1="687.90" x2="30.10" y2="690.20" stroke="#92acdc" stroke-width="0.8"/>
<line x1="53.79" y1="687.90" x2="53.79" y2="690.20" stroke="#92acdc" stroke-width="0.8"/>
<line x1="77.48" y1="687.90" x2="77.48" y2="690.20" stroke="#92acdc" stroke-width="0.8"/>
<line x1="101.17" y1="687.90" x2="101.17" y2="690.20" stroke="#92acdc" stroke-width="0.8"/>
<line x1="124.86" y1="687.90" x2="124.86" y2="690.20" stroke="#92acdc" stroke-width="0.8"/>
<line x1="148.55" y1="687.90" x2="148.55" y2="690.20" stroke="#92acdc" stroke-width="0.8"/>
<line x1="172.24" y1="687.90" x2="172.24" y2="690.20" stroke="#92acdc" stroke-width="0.8"/>
<line x1="195.93" y1="687.90" x2="195.93" y2="690.20" stroke="#92acdc" stroke-width="0.8"/>
<line x1="219.62" y1="687.90" x2="219.62" y2="690.20" stroke="#92acdc" stroke-width="0.8"/>
<text x="22.20" y="692.60" font-size="7.00" text-anchor="end" fill="#000">0</text>
<text x="22.20" y="679.65" font-size="7.00" text-anchor="end" fill="#000">50</text>
<text x="22.20" y="666.70" font-size="7.00" text-anchor="end" fill="#000">100</text>
<text x="22.20" y="653.75" font-size="7.00" text-anchor="end" fill="#000">150</text>
<text x="22.20" y="640.80" font-size="7.00" text-anchor="end" fill="#000">200</text>
<text x="22.20" y="627.85" font-size="7.00" text-anchor="end" fill="#000">250</text>
<text x="22.20" y="614.90" font-size="7.00" text-anchor="end" fill="#000">300</text>
<text x="22.20" y="601.95" font-size="7.00" text-anchor="end" fill="#000">350</text>
<text x="22.20" y="589.00" font-size="7.00" text-anchor="end" fill="#000">400</text>
<polygon points="138.88,638.72 145.68,638.72 148.78,636.52 148.78,635.92 141.98,635.92 138.88,638.12" fill="#2f4f89"/><polygon points="138.88,638.12 145.68,638.12 148.78,635.92 141.98,635.92" fill="#3a62a8"/><rect x="138.88" y="638.12" width="6.80" height="0.60" fill="#2f4f89"/>
<polygon points="162.58,638.72 169.38,638.72 172.48,636.52 172.48,635.92 165.68,635.92 162.58,638.12" fill="#2f4f89"/><polygon points="162.58,638.12 169.38,638.12 172.48,635.92 165.68,635.92" fill="#3a62a8"/><rect x="162.58" y="638.12" width="6.80" height="0.60" fill="#2f4f89"/>
<polygon points="186.28,638.72 193.08,638.72 196.18,636.52 196.18,613.60 189.38,613.60 186.28,615.80" fill="#2f4f89"/><polygon points="186.28,615.80 193.08,615.80 196.18,613.60 189.38,613.60" fill="#3a62a8"/><rect x="186.28" y="615.80" width="6.80" height="22.92" fill="#4472C4"/>
<polygon points="209.98,638.72 216.78,638.72 219.88,636.52 219.88,635.92 213.08,635.92 209.98,638.12" fill="#2f4f89"/><polygon points="209.98,638.12 216.78,638.12 219.88,635.92 213.08,635.92" fill="#3a62a8"/><rect x="209.98" y="638.12" width="6.80" height="0.60" fill="#2f4f89"/>
<polygon points="233.68,638.72 240.48,638.72 243.58,636.52 243.58,635.92 236.78,635.92 233.68,638.12" fill="#2f4f89"/><polygon points="233.68,638.12 240.48,638.12 243.58,635.92 236.78,635.92" fill="#3a62a8"/><rect x="233.68" y="638.12" width="6.80" height="0.60" fill="#2f4f89"/>
<polygon points="257.38,638.72 264.18,638.72 267.28,636.52 267.28,632.00 260.48,632.00 257.38,634.20" fill="#2f4f89"/><polygon points="257.38,634.20 264.18,634.20 267.28,632.00 260.48,632.00" fill="#3a62a8"/><rect x="257.38" y="634.20" width="6.80" height="4.52" fill="#4472C4"/>
<polygon points="103.20,646.75 110.00,646.75 113.10,644.55 113.10,613.80 106.30,613.80 103.20,616.00" fill="#b28600"/><polygon points="103.20,616.00 110.00,616.00 113.10,613.80 106.30,613.80" fill="#dba500"/><rect x="103.20" y="616.00" width="6.80" height="30.75" fill="#FFC000"/>
<polygon points="126.90,646.75 133.70,646.75 136.80,644.55 136.80,629.50 130.00,629.50 126.90,631.70" fill="#b28600"/><polygon points="126.90,631.70 133.70,631.70 136.80,629.50 130.00,629.50" fill="#dba500"/><rect x="126.90" y="631.70" width="6.80" height="15.05" fill="#FFC000"/>
<polygon points="198.00,646.75 204.80,646.75 207.90,644.55 207.90,643.95 201.10,643.95 198.00,646.15" fill="#b28600"/><polygon points="198.00,646.15 204.80,646.15 207.90,643.95 201.10,643.95" fill="#dba500"/><rect x="198.00" y="646.15" width="6.80" height="0.60" fill="#b28600"/>
<polygon points="269.10,646.75 275.90,646.75 279.00,644.55 279.00,643.95 272.20,643.95 269.10,646.15" fill="#b28600"/><polygon points="269.10,646.15 275.90,646.15 279.00,643.95 272.20,643.95" fill="#dba500"/><rect x="269.10" y="646.15" width="6.80" height="0.60" fill="#b28600"/>
<polygon points="162.32,654.78 169.12,654.78 172.22,652.58 172.22,651.98 165.42,651.98 162.32,654.18" fill="#a55722"/><polygon points="162.32,654.18 169.12,654.18 172.22,651.98 165.42,651.98" fill="#cb6b2a"/><rect x="162.32" y="654.18" width="6.80" height="0.60" fill="#a55722"/>
<polygon points="233.42,654.78 240.22,654.78 243.32,652.58 243.32,651.98 236.52,651.98 233.42,654.18" fill="#a55722"/><polygon points="233.42,654.18 240.22,654.18 243.32,651.98 236.52,651.98" fill="#cb6b2a"/><rect x="233.42" y="654.18" width="6.80" height="0.60" fill="#a55722"/>
<polygon points="126.64,662.81 133.44,662.81 136.54,660.61 136.54,657.60 129.74,657.60 126.64,659.80" fill="#1a2f54"/><polygon points="126.64,659.80 133.44,659.80 136.54,657.60 129.74,657.60" fill="#203a67"/><rect x="126.64" y="659.80" width="6.80" height="3.01" fill="#264478"/>
<polygon points="174.04,662.81 180.84,662.81 183.94,660.61 183.94,653.20 177.14,653.20 174.04,655.40" fill="#1a2f54"/><polygon points="174.04,655.40 180.84,655.40 183.94,653.20 177.14,653.20" fill="#203a67"/><rect x="174.04" y="655.40" width="6.80" height="7.41" fill="#264478"/>
<polygon points="221.44,662.81 228.24,662.81 231.34,660.61 231.34,660.01 224.54,660.01 221.44,662.21" fill="#1a2f54"/><polygon points="221.44,662.21 228.24,662.21 231.34,660.01 224.54,660.01" fill="#203a67"/><rect x="221.44" y="662.21" width="6.80" height="0.60" fill="#1a2f54"/>
<polygon points="90.96,670.84 97.76,670.84 100.86,668.64 100.86,668.04 94.06,668.04 90.96,670.24" fill="#4e7931"/><polygon points="90.96,670.24 97.76,670.24 100.86,668.04 94.06,668.04" fill="#60943d"/><rect x="90.96" y="670.24" width="6.80" height="0.60" fill="#4e7931"/>
<polygon points="114.66,670.84 121.46,670.84 124.56,668.64 124.56,635.70 117.76,635.70 114.66,637.90" fill="#4e7931"/><polygon points="114.66,637.90 121.46,637.90 124.56,635.70 117.76,635.70" fill="#60943d"/><rect x="114.66" y="637.90" width="6.80" height="32.94" fill="#70AD47"/>
<polygon points="162.06,670.84 168.86,670.84 171.96,668.64 171.96,668.04 165.16,668.04 162.06,670.24" fill="#4e7931"/><polygon points="162.06,670.24 168.86,670.24 171.96,668.04 165.16,668.04" fill="#60943d"/><rect x="162.06" y="670.24" width="6.80" height="0.60" fill="#4e7931"/>
<polygon points="209.46,670.84 216.26,670.84 219.36,668.64 219.36,666.30 212.56,666.30 209.46,668.50" fill="#4e7931"/><polygon points="209.46,668.50 216.26,668.50 219.36,666.30 212.56,666.30" fill="#60943d"/><rect x="209.46" y="668.50" width="6.80" height="2.34" fill="#70AD47"/>
<polygon points="78.98,678.87 85.78,678.87 88.88,676.67 88.88,652.80 82.08,652.80 78.98,655.00" fill="#3f6c95"/><polygon points="78.98,655.00 85.78,655.00 88.88,652.80 82.08,652.80" fill="#4e85b7"/><rect x="78.98" y="655.00" width="6.80" height="23.87" fill="#5B9BD5"/>
<polygon points="102.68,678.87 109.48,678.87 112.58,676.67 112.58,641.20 105.78,641.20 102.68,643.40" fill="#3f6c95"/><polygon points="102.68,643.40 109.48,643.40 112.58,641.20 105.78,641.20" fill="#4e85b7"/><rect x="102.68" y="643.40" width="6.80" height="35.47" fill="#5B9BD5"/>
<polygon points="150.08,678.87 156.88,678.87 159.98,676.67 159.98,579.60 153.18,579.60 150.08,581.80" fill="#3f6c95"/><polygon points="150.08,581.80 156.88,581.80 159.98,579.60 153.18,579.60" fill="#4e85b7"/><rect x="150.08" y="581.80" width="6.80" height="97.07" fill="#5B9BD5"/>
<polygon points="43.30,686.90 50.10,686.90 53.20,684.70 53.20,679.80 46.40,679.80 43.30,682.00" fill="#737373"/><polygon points="43.30,682.00 50.10,682.00 53.20,679.80 46.40,679.80" fill="#8d8d8d"/><rect x="43.30" y="682.00" width="6.80" height="4.90" fill="#A5A5A5"/>
<polygon points="67.00,686.90 73.80,686.90 76.90,684.70 76.90,684.10 70.10,684.10 67.00,686.30" fill="#737373"/><polygon points="67.00,686.30 73.80,686.30 76.90,684.10 70.10,684.10" fill="#8d8d8d"/><rect x="67.00" y="686.30" width="6.80" height="0.60" fill="#737373"/>
<polygon points="138.10,686.90 144.90,686.90 148.00,684.70 148.00,684.10 141.20,684.10 138.10,686.30" fill="#737373"/><polygon points="138.10,686.30 144.90,686.30 148.00,684.10 141.20,684.10" fill="#8d8d8d"/><rect x="138.10" y="686.30" width="6.80" height="0.60" fill="#737373"/>
<polygon points="209.20,686.90 216.00,686.90 219.10,684.70 219.10,673.70 212.30,673.70 209.20,675.90" fill="#737373"/><polygon points="209.20,675.90 216.00,675.90 219.10,673.70 212.30,673.70" fill="#8d8d8d"/><rect x="209.20" y="675.90" width="6.80" height="11.00" fill="#A5A5A5"/>
<text x="0" y="0" font-size="6.80" text-anchor="end" textLength="45.36" lengthAdjust="spacingAndGlyphs" transform="translate(44.45,699.00) rotate(-45)">FY2018 - 2nd H</text>
<text x="0" y="0" font-size="6.80" text-anchor="end" textLength="42.66" lengthAdjust="spacingAndGlyphs" transform="translate(68.14,699.00) rotate(-45)">FY2019 - 1st H</text>
<text x="0" y="0" font-size="6.80" text-anchor="end" textLength="45.36" lengthAdjust="spacingAndGlyphs" transform="translate(91.83,699.00) rotate(-45)">FY2019 - 2nd H</text>
<text x="0" y="0" font-size="6.80" text-anchor="end" textLength="42.66" lengthAdjust="spacingAndGlyphs" transform="translate(115.52,699.00) rotate(-45)">FY2020 - 1st H</text>
<text x="0" y="0" font-size="6.80" text-anchor="end" textLength="45.36" lengthAdjust="spacingAndGlyphs" transform="translate(139.21,699.00) rotate(-45)">FY2020 - 2nd H</text>
<text x="0" y="0" font-size="6.80" text-anchor="end" textLength="42.66" lengthAdjust="spacingAndGlyphs" transform="translate(162.90,699.00) rotate(-45)">FY2021 - 1st H</text>
<text x="0" y="0" font-size="6.80" text-anchor="end" textLength="45.36" lengthAdjust="spacingAndGlyphs" transform="translate(186.59,699.00) rotate(-45)">FY2021 - 2nd H</text>
<text x="0" y="0" font-size="6.80" text-anchor="end" textLength="42.66" lengthAdjust="spacingAndGlyphs" transform="translate(210.28,699.00) rotate(-45)">FY2022 - 1st H</text>
<text x="235.00" y="688.50" font-size="6.50" textLength="11.02" lengthAdjust="spacingAndGlyphs" fill="#000">CC2</text>
<text x="246.76" y="680.44" font-size="6.50" textLength="17.06" lengthAdjust="spacingAndGlyphs" fill="#000">CC3-3</text>
<text x="258.52" y="672.38" font-size="6.50" textLength="17.37" lengthAdjust="spacingAndGlyphs" fill="#000">CC4-2</text>
<text x="270.28" y="664.32" font-size="6.50" textLength="17.06" lengthAdjust="spacingAndGlyphs" fill="#000">CC4-1</text>
<text x="282.04" y="656.26" font-size="6.50" textLength="12.79" lengthAdjust="spacingAndGlyphs" fill="#000">SEM</text>
<text x="293.80" y="648.20" font-size="6.50" textLength="30.16" lengthAdjust="spacingAndGlyphs" fill="#000">HY1 Room</text>
<text x="305.56" y="640.14" font-size="6.50" textLength="30.26" lengthAdjust="spacingAndGlyphs" fill="#000">HY2 Room</text>
<g transform="translate(1.10,573.10) scale(1.120,1)"><text x="0" y="0" font-size="6.50" fill="#000">E<tspan font-size="4.42" dy="-2.2">9</tspan><tspan dy="2.2">atoms/cm</tspan><tspan font-size="4.42" dy="-2.2">2</tspan></text></g>
<text x="171.90" y="526.50" font-size="15.00" textLength="14.00" lengthAdjust="spacingAndGlyphs" fill="#000" style="stroke-width:0.35px">Fe</text>
</svg>
</body></html>
